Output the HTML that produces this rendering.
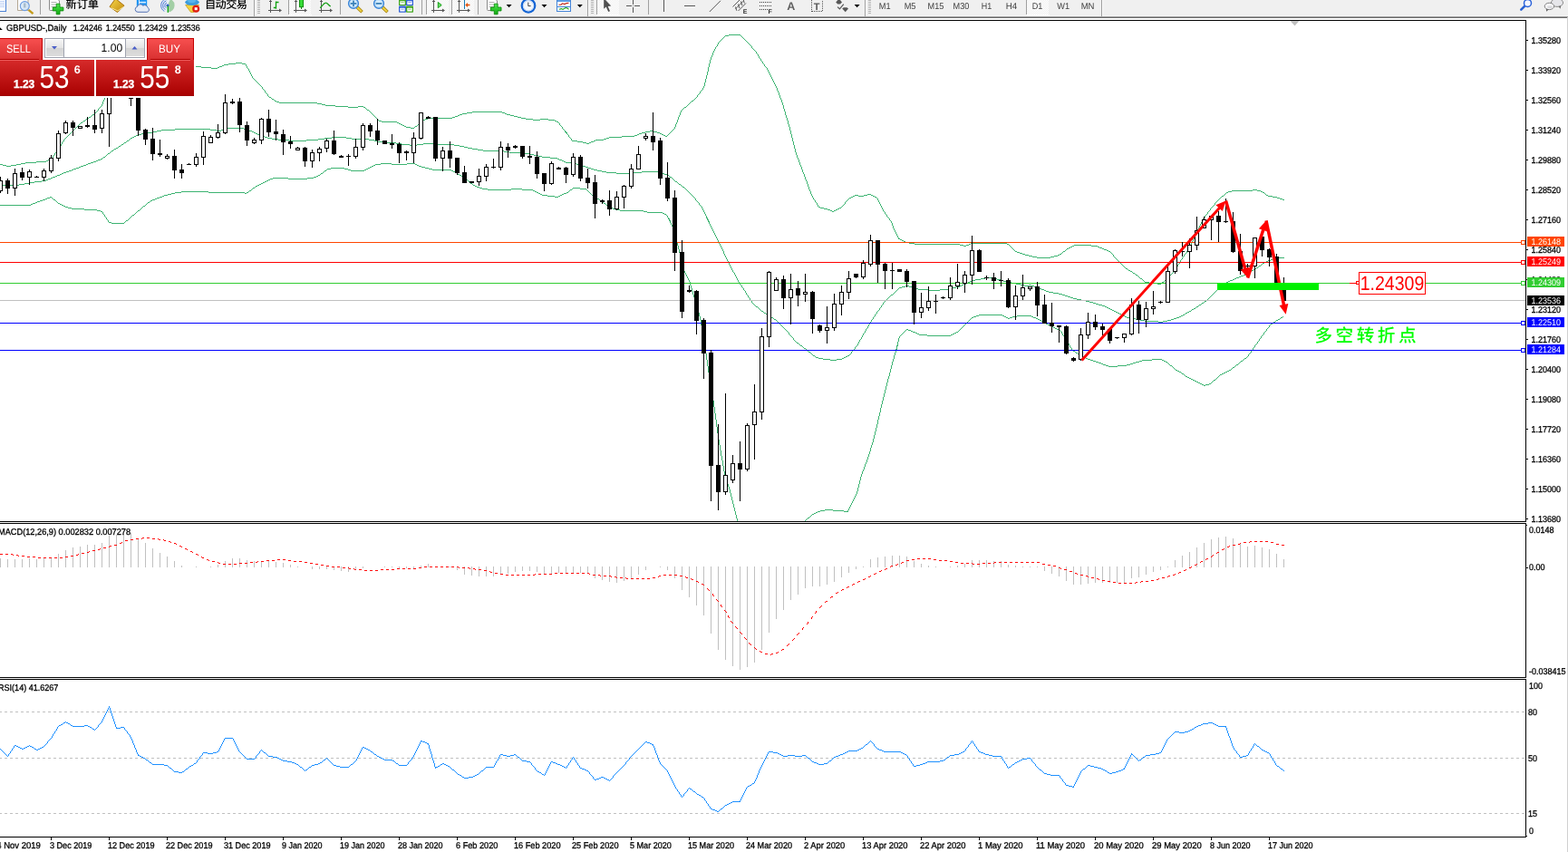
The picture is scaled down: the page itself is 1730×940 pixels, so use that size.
<!DOCTYPE html>
<html lang="zh"><head><meta charset="utf-8"><title>GBPUSD Daily</title>
<style>html,body{margin:0;padding:0;background:#fff;}body{width:1730px;height:940px;overflow:hidden;position:relative;}svg{display:block;position:absolute;left:0;top:0;font-family:"Liberation Sans", "Noto Sans CJK SC", sans-serif;}.c{shape-rendering:crispEdges}</style></head><body>
<svg width="1730" height="940" viewBox="0 0 1730 940" text-rendering="geometricPrecision">
<defs><clipPath id="cm"><rect x="0" y="23" width="1683" height="552"/></clipPath><clipPath id="cd"><rect x="0" y="578" width="1683" height="169"/></clipPath><clipPath id="cr"><rect x="0" y="750" width="1683" height="173"/></clipPath><linearGradient id="gs" x1="0" y1="0" x2="0" y2="1"><stop offset="0" stop-color="#f85050"/><stop offset="1" stop-color="#d83030"/></linearGradient><linearGradient id="gb" x1="0" y1="0" x2="0" y2="1"><stop offset="0" stop-color="#d62a2a"/><stop offset="1" stop-color="#a80000"/></linearGradient><linearGradient id="gg" x1="0" y1="0" x2="0" y2="1"><stop offset="0" stop-color="#f4f4f4"/><stop offset="0.5" stop-color="#e4e4e4"/><stop offset="0.5" stop-color="#d4d4d4"/><stop offset="1" stop-color="#dcdcdc"/></linearGradient></defs>
<rect x="0" y="0" width="1730" height="940" fill="#fff" />
<g class="c" clip-path="url(#cm)">
<path d="M804 38.5h13M800 39.5h4M817 39.5h1M799 40.5h1M818 40.5h1M798 41.5h1M819 41.5h1M797 42.5h1M820 42.5h1M796 43.5h1M821 43.5h1M795 44.5h1M822 44.5h1M794 45.5h1M823 45.5h1M793 46.5h1M824 46.5h1M792 47.5h1M825 47.5h1M792 48.5h1M826 48.5h1M791 49.5h1M827 49.5h1M791 50.5h1M828 50.5h1M790 51.5h1M829 51.5h1M789 52.5h1M829 52.5h1M789 53.5h1M830 53.5h1M788 54.5h1M831 54.5h1M788 55.5h1M832 55.5h1M787 56.5h1M833 56.5h1M787 57.5h1M834 57.5h1M786 58.5h1M834 58.5h1M786 59.5h1M835 59.5h1M786 60.5h1M836 60.5h1M785 61.5h1M836 61.5h1M785 62.5h1M837 62.5h1M784 63.5h1M837 63.5h1M784 64.5h1M838 64.5h1M784 65.5h1M839 65.5h1M783 66.5h1M839 66.5h1M783 67.5h1M840 67.5h1M783 68.5h1M841 68.5h1M260 69.5h7M783 69.5h1M841 69.5h1M252 70.5h8M267 70.5h4M782 70.5h1M842 70.5h1M247 71.5h5M271 71.5h1M782 71.5h1M843 71.5h1M245 72.5h2M271 72.5h1M782 72.5h1M843 72.5h1M209 73.5h13M242 73.5h3M272 73.5h1M782 73.5h1M844 73.5h1M193 74.5h16M222 74.5h11M240 74.5h2M272 74.5h1M781 74.5h1M845 74.5h1M178 75.5h15M233 75.5h7M273 75.5h1M781 75.5h1M846 75.5h1M169 76.5h9M274 76.5h1M781 76.5h1M846 76.5h1M165 77.5h4M274 77.5h1M781 77.5h1M847 77.5h1M161 78.5h4M275 78.5h1M781 78.5h1M847 78.5h1M157 79.5h4M275 79.5h1M780 79.5h1M848 79.5h1M154 80.5h3M276 80.5h1M780 80.5h1M848 80.5h1M150 81.5h4M276 81.5h1M780 81.5h1M849 81.5h1M146 82.5h4M277 82.5h1M780 82.5h1M849 82.5h1M142 83.5h4M277 83.5h1M779 83.5h1M850 83.5h1M140 84.5h2M278 84.5h1M779 84.5h1M850 84.5h1M138 85.5h2M278 85.5h1M779 85.5h1M851 85.5h1M137 86.5h1M279 86.5h1M779 86.5h1M851 86.5h1M136 87.5h1M280 87.5h1M778 87.5h1M852 87.5h1M134 88.5h2M281 88.5h1M778 88.5h1M852 88.5h1M133 89.5h1M282 89.5h1M778 89.5h1M853 89.5h1M132 90.5h1M283 90.5h1M778 90.5h1M853 90.5h1M130 91.5h2M284 91.5h1M777 91.5h1M854 91.5h1M129 92.5h1M285 92.5h1M777 92.5h1M854 92.5h1M128 93.5h1M286 93.5h1M777 93.5h1M855 93.5h1M126 94.5h2M287 94.5h1M777 94.5h1M855 94.5h1M125 95.5h1M288 95.5h1M776 95.5h1M856 95.5h1M124 96.5h1M289 96.5h1M776 96.5h1M856 96.5h1M123 97.5h1M289 97.5h1M775 97.5h1M857 97.5h1M123 98.5h1M290 98.5h1M775 98.5h1M857 98.5h1M122 99.5h1M291 99.5h1M774 99.5h1M857 99.5h1M121 100.5h1M292 100.5h1M773 100.5h1M858 100.5h1M120 101.5h1M292 101.5h1M772 101.5h1M858 101.5h1M120 102.5h1M293 102.5h1M772 102.5h1M859 102.5h1M119 103.5h1M294 103.5h1M771 103.5h1M859 103.5h1M118 104.5h1M295 104.5h1M770 104.5h1M859 104.5h1M117 105.5h1M295 105.5h1M769 105.5h1M860 105.5h1M117 106.5h1M296 106.5h1M769 106.5h1M860 106.5h1M116 107.5h1M297 107.5h2M768 107.5h1M860 107.5h1M115 108.5h1M299 108.5h1M767 108.5h1M861 108.5h1M115 109.5h1M300 109.5h2M766 109.5h1M861 109.5h1M114 110.5h1M302 110.5h1M765 110.5h1M862 110.5h1M114 111.5h1M303 111.5h2M763 111.5h2M862 111.5h1M113 112.5h1M305 112.5h3M762 112.5h1M862 112.5h1M113 113.5h1M308 113.5h42M761 113.5h1M863 113.5h1M113 114.5h1M350 114.5h5M760 114.5h1M863 114.5h1M112 115.5h1M355 115.5h4M759 115.5h1M863 115.5h1M112 116.5h1M359 116.5h11M758 116.5h1M864 116.5h1M111 117.5h1M370 117.5h14M395 117.5h6M757 117.5h1M864 117.5h1M110 118.5h1M384 118.5h11M401 118.5h2M755 118.5h2M864 118.5h1M109 119.5h1M403 119.5h1M754 119.5h1M864 119.5h1M108 120.5h1M404 120.5h1M753 120.5h1M865 120.5h1M108 121.5h1M405 121.5h2M752 121.5h1M865 121.5h1M107 122.5h1M407 122.5h1M751 122.5h1M865 122.5h1M106 123.5h1M408 123.5h1M521 123.5h33M751 123.5h1M866 123.5h1M105 124.5h1M409 124.5h1M515 124.5h6M554 124.5h3M750 124.5h1M866 124.5h1M104 125.5h1M410 125.5h1M510 125.5h5M557 125.5h2M750 125.5h1M866 125.5h1M102 126.5h2M411 126.5h1M507 126.5h3M559 126.5h4M750 126.5h1M866 126.5h1M101 127.5h1M412 127.5h1M505 127.5h2M563 127.5h4M749 127.5h1M867 127.5h1M100 128.5h1M413 128.5h1M502 128.5h3M567 128.5h4M749 128.5h1M867 128.5h1M98 129.5h2M414 129.5h1M499 129.5h3M571 129.5h4M748 129.5h1M867 129.5h1M97 130.5h1M415 130.5h1M472 130.5h27M575 130.5h5M748 130.5h1M868 130.5h1M95 131.5h2M416 131.5h1M469 131.5h3M580 131.5h8M596 131.5h9M748 131.5h1M868 131.5h1M94 132.5h1M416 132.5h2M467 132.5h2M588 132.5h8M605 132.5h7M747 132.5h1M868 132.5h1M92 133.5h2M418 133.5h3M466 133.5h1M612 133.5h2M747 133.5h1M869 133.5h1M91 134.5h1M421 134.5h17M465 134.5h1M614 134.5h2M747 134.5h1M869 134.5h1M89 135.5h2M438 135.5h2M463 135.5h2M616 135.5h1M746 135.5h1M869 135.5h1M88 136.5h1M440 136.5h2M462 136.5h1M617 136.5h1M746 136.5h1M869 136.5h1M87 137.5h1M442 137.5h2M461 137.5h1M617 137.5h1M745 137.5h1M870 137.5h1M86 138.5h1M444 138.5h2M460 138.5h1M618 138.5h1M745 138.5h1M870 138.5h1M85 139.5h1M446 139.5h2M458 139.5h2M619 139.5h1M745 139.5h1M870 139.5h1M84 140.5h1M448 140.5h5M457 140.5h1M620 140.5h1M744 140.5h1M871 140.5h1M83 141.5h1M453 141.5h4M620 141.5h1M744 141.5h1M871 141.5h1M82 142.5h1M621 142.5h1M743 142.5h1M871 142.5h1M81 143.5h1M622 143.5h1M742 143.5h1M871 143.5h1M80 144.5h1M623 144.5h1M717 144.5h4M741 144.5h1M872 144.5h1M79 145.5h1M623 145.5h2M712 145.5h5M721 145.5h4M740 145.5h1M872 145.5h1M78 146.5h1M624 146.5h2M708 146.5h4M725 146.5h3M739 146.5h1M872 146.5h1M77 147.5h1M625 147.5h1M705 147.5h3M728 147.5h2M738 147.5h1M872 147.5h1M76 148.5h1M626 148.5h1M703 148.5h2M730 148.5h2M737 148.5h1M873 148.5h1M75 149.5h1M627 149.5h1M700 149.5h3M732 149.5h2M736 149.5h1M873 149.5h1M74 150.5h1M627 150.5h1M686 150.5h14M734 150.5h2M873 150.5h1M73 151.5h1M628 151.5h1M672 151.5h14M873 151.5h1M72 152.5h1M629 152.5h1M669 152.5h3M874 152.5h1M71 153.5h1M630 153.5h1M666 153.5h3M874 153.5h1M70 154.5h1M630 154.5h1M657 154.5h9M874 154.5h1M70 155.5h1M631 155.5h6M655 155.5h2M874 155.5h1M69 156.5h1M637 156.5h6M652 156.5h3M875 156.5h1M68 157.5h1M643 157.5h4M650 157.5h2M875 157.5h1M68 158.5h1M647 158.5h3M875 158.5h1M67 159.5h1M875 159.5h1M67 160.5h1M876 160.5h1M66 161.5h1M876 161.5h1M65 162.5h1M876 162.5h1M65 163.5h1M876 163.5h1M64 164.5h1M877 164.5h1M63 165.5h1M877 165.5h1M63 166.5h1M877 166.5h1M62 167.5h1M877 167.5h1M61 168.5h1M878 168.5h1M60 169.5h1M878 169.5h1M60 170.5h1M878 170.5h1M59 171.5h1M879 171.5h1M58 172.5h1M879 172.5h1M58 173.5h1M879 173.5h1M57 174.5h1M880 174.5h1M55 175.5h2M880 175.5h1M53 176.5h2M881 176.5h1M51 177.5h2M881 177.5h1M40 178.5h11M881 178.5h1M28 179.5h12M882 179.5h1M23 180.5h5M882 180.5h1M0 181.5h3M18 181.5h5M882 181.5h1M3 182.5h4M12 182.5h6M883 182.5h1M7 183.5h5M883 183.5h1M884 184.5h1M884 185.5h1M884 186.5h1M885 187.5h1M885 188.5h1M885 189.5h1M886 190.5h1M886 191.5h1M887 192.5h1M887 193.5h1M887 194.5h1M888 195.5h1M888 196.5h1M888 197.5h1M889 198.5h1M889 199.5h1M890 200.5h1M890 201.5h1M890 202.5h1M891 203.5h1M891 204.5h1M891 205.5h1M892 206.5h1M892 207.5h1M892 208.5h1M893 209.5h1M1382 209.5h5M893 210.5h1M1359 210.5h23M1387 210.5h4M894 211.5h1M1355 211.5h4M1391 211.5h2M894 212.5h1M1353 212.5h2M1393 212.5h2M894 213.5h1M1352 213.5h1M1395 213.5h1M895 214.5h1M957 214.5h4M1351 214.5h1M1396 214.5h1M895 215.5h1M943 215.5h4M953 215.5h4M961 215.5h2M1350 215.5h1M1397 215.5h2M896 216.5h1M941 216.5h2M947 216.5h6M963 216.5h2M1348 216.5h2M1399 216.5h5M896 217.5h1M939 217.5h2M965 217.5h2M1347 217.5h1M1404 217.5h5M897 218.5h1M937 218.5h2M967 218.5h1M1346 218.5h1M1409 218.5h3M897 219.5h1M936 219.5h1M968 219.5h1M1345 219.5h1M1412 219.5h3M898 220.5h1M935 220.5h1M968 220.5h1M1344 220.5h1M1415 220.5h2M899 221.5h1M934 221.5h1M969 221.5h1M1343 221.5h1M899 222.5h1M933 222.5h1M969 222.5h1M1342 222.5h1M900 223.5h1M932 223.5h1M970 223.5h1M1341 223.5h1M901 224.5h1M932 224.5h1M970 224.5h1M1340 224.5h1M901 225.5h1M931 225.5h1M971 225.5h1M1340 225.5h1M902 226.5h1M930 226.5h1M971 226.5h1M1339 226.5h1M902 227.5h1M929 227.5h1M972 227.5h1M1338 227.5h1M903 228.5h2M928 228.5h1M972 228.5h1M1337 228.5h1M905 229.5h4M926 229.5h2M973 229.5h1M1336 229.5h1M909 230.5h4M924 230.5h2M973 230.5h1M1335 230.5h1M913 231.5h3M922 231.5h2M974 231.5h1M1335 231.5h1M916 232.5h2M920 232.5h2M974 232.5h1M1334 232.5h1M918 233.5h2M975 233.5h1M1333 233.5h1M976 234.5h1M1332 234.5h1M976 235.5h1M1332 235.5h1M977 236.5h1M1331 236.5h1M978 237.5h1M1330 237.5h1M978 238.5h1M1329 238.5h1M979 239.5h1M1329 239.5h1M980 240.5h1M1328 240.5h1M981 241.5h1M1327 241.5h1M981 242.5h1M1327 242.5h1M982 243.5h1M1326 243.5h1M983 244.5h1M1326 244.5h1M983 245.5h1M1325 245.5h1M984 246.5h1M1325 246.5h1M984 247.5h1M1324 247.5h1M984 248.5h1M1324 248.5h1M985 249.5h1M1323 249.5h1M985 250.5h1M1323 250.5h1M985 251.5h1M1322 251.5h1M986 252.5h1M1322 252.5h1M986 253.5h1M1321 253.5h1M987 254.5h1M1321 254.5h1M987 255.5h1M1320 255.5h1M988 256.5h1M1320 256.5h1M988 257.5h1M1320 257.5h1M989 258.5h1M1319 258.5h1M989 259.5h1M1319 259.5h1M990 260.5h1M1318 260.5h1M990 261.5h1M1318 261.5h1M991 262.5h1M1317 262.5h1M991 263.5h2M1317 263.5h1M993 264.5h2M1316 264.5h1M995 265.5h2M1316 265.5h1M997 266.5h2M1315 266.5h1M999 267.5h4M1315 267.5h1M1003 268.5h6M1071 268.5h40M1314 268.5h1M1009 269.5h50M1069 269.5h2M1111 269.5h2M1314 269.5h1M1059 270.5h4M1066 270.5h3M1113 270.5h1M1185 270.5h19M1313 270.5h1M1063 271.5h3M1114 271.5h1M1183 271.5h2M1204 271.5h7M1313 271.5h1M1115 272.5h1M1181 272.5h2M1211 272.5h2M1312 272.5h1M1116 273.5h1M1179 273.5h2M1213 273.5h3M1312 273.5h1M1117 274.5h1M1177 274.5h2M1216 274.5h2M1311 274.5h1M1118 275.5h1M1176 275.5h1M1218 275.5h3M1311 275.5h1M1119 276.5h1M1175 276.5h1M1221 276.5h2M1310 276.5h1M1120 277.5h2M1173 277.5h2M1223 277.5h2M1309 277.5h1M1122 278.5h3M1172 278.5h1M1225 278.5h1M1309 278.5h1M1125 279.5h3M1171 279.5h1M1226 279.5h1M1308 279.5h1M1128 280.5h3M1169 280.5h2M1227 280.5h1M1307 280.5h1M1131 281.5h4M1167 281.5h2M1228 281.5h1M1306 281.5h1M1135 282.5h4M1163 282.5h4M1228 282.5h1M1306 282.5h1M1139 283.5h5M1159 283.5h4M1229 283.5h1M1305 283.5h1M1144 284.5h15M1230 284.5h1M1304 284.5h1M1231 285.5h1M1304 285.5h1M1232 286.5h1M1303 286.5h1M1233 287.5h1M1302 287.5h1M1234 288.5h1M1302 288.5h1M1235 289.5h1M1301 289.5h1M1236 290.5h1M1301 290.5h1M1237 291.5h1M1300 291.5h1M1238 292.5h1M1299 292.5h1M1239 293.5h1M1299 293.5h1M1240 294.5h1M1298 294.5h1M1241 295.5h1M1297 295.5h1M1242 296.5h2M1297 296.5h1M1244 297.5h1M1296 297.5h1M1245 298.5h2M1296 298.5h1M1247 299.5h2M1295 299.5h1M1249 300.5h1M1294 300.5h1M1250 301.5h2M1293 301.5h1M1252 302.5h1M1292 302.5h1M1253 303.5h2M1291 303.5h1M1255 304.5h1M1290 304.5h1M1256 305.5h1M1289 305.5h1M1257 306.5h1M1288 306.5h1M1258 307.5h2M1287 307.5h1M1260 308.5h1M1286 308.5h1M1261 309.5h1M1285 309.5h1M1262 310.5h1M1284 310.5h1M1263 311.5h5M1282 311.5h2M1268 312.5h9M1281 312.5h1M1277 313.5h4" fill="none" stroke="#3cb371" stroke-width="1"/>
<path d="M251 141.5h18M193 142.5h39M248 142.5h3M269 142.5h3M178 143.5h15M232 143.5h7M244 143.5h4M272 143.5h3M173 144.5h5M239 144.5h5M275 144.5h3M168 145.5h5M278 145.5h2M162 146.5h6M280 146.5h2M156 147.5h6M282 147.5h2M152 148.5h4M284 148.5h2M150 149.5h2M286 149.5h3M148 150.5h2M289 150.5h3M146 151.5h2M292 151.5h3M366 151.5h16M144 152.5h2M295 152.5h5M358 152.5h8M382 152.5h6M143 153.5h1M300 153.5h7M351 153.5h7M388 153.5h19M142 154.5h1M307 154.5h12M338 154.5h13M407 154.5h6M140 155.5h2M319 155.5h19M413 155.5h3M139 156.5h1M416 156.5h9M137 157.5h2M425 157.5h12M136 158.5h1M437 158.5h6M467 158.5h14M134 159.5h2M443 159.5h9M460 159.5h7M481 159.5h20M133 160.5h1M452 160.5h8M501 160.5h6M131 161.5h2M507 161.5h5M130 162.5h1M512 162.5h4M128 163.5h2M516 163.5h5M126 164.5h2M521 164.5h6M125 165.5h1M527 165.5h6M123 166.5h2M533 166.5h23M122 167.5h1M556 167.5h6M121 168.5h1M562 168.5h17M119 169.5h2M579 169.5h5M118 170.5h1M584 170.5h5M117 171.5h1M589 171.5h5M116 172.5h1M594 172.5h4M114 173.5h2M598 173.5h9M113 174.5h1M607 174.5h8M111 175.5h2M615 175.5h2M108 176.5h3M617 176.5h3M106 177.5h2M620 177.5h2M103 178.5h3M622 178.5h2M100 179.5h3M624 179.5h6M97 180.5h3M630 180.5h6M95 181.5h2M636 181.5h4M92 182.5h3M640 182.5h3M89 183.5h3M643 183.5h3M87 184.5h2M646 184.5h3M84 185.5h3M649 185.5h3M81 186.5h3M652 186.5h3M79 187.5h2M655 187.5h4M76 188.5h3M659 188.5h5M73 189.5h3M664 189.5h5M708 189.5h18M70 190.5h3M669 190.5h11M695 190.5h13M726 190.5h2M68 191.5h2M680 191.5h15M728 191.5h5M66 192.5h2M733 192.5h4M63 193.5h3M737 193.5h1M61 194.5h2M738 194.5h1M58 195.5h3M739 195.5h2M56 196.5h2M741 196.5h1M53 197.5h3M742 197.5h1M51 198.5h2M743 198.5h1M46 199.5h5M744 199.5h1M38 200.5h8M745 200.5h2M32 201.5h6M747 201.5h1M27 202.5h5M748 202.5h1M21 203.5h6M749 203.5h2M0 204.5h21M751 204.5h1M752 205.5h1M753 206.5h2M755 207.5h1M756 208.5h1M757 209.5h1M758 210.5h1M759 211.5h1M760 212.5h1M761 213.5h1M762 214.5h1M763 215.5h1M764 216.5h1M765 217.5h1M766 218.5h1M767 219.5h1M767 220.5h1M768 221.5h1M769 222.5h1M770 223.5h1M771 224.5h1M771 225.5h1M772 226.5h1M773 227.5h1M774 228.5h1M774 229.5h1M775 230.5h1M775 231.5h1M776 232.5h1M776 233.5h1M777 234.5h1M777 235.5h1M778 236.5h1M778 237.5h1M779 238.5h1M779 239.5h1M779 240.5h2M780 241.5h1M780 242.5h2M781 243.5h1M781 244.5h2M782 245.5h1M782 246.5h1M783 247.5h1M783 248.5h1M784 249.5h1M784 250.5h1M785 251.5h1M785 252.5h1M786 253.5h1M786 254.5h1M787 255.5h1M787 256.5h1M788 257.5h1M788 258.5h1M789 259.5h1M789 260.5h1M790 261.5h1M790 262.5h1M791 263.5h1M791 264.5h1M792 265.5h1M792 266.5h1M793 267.5h1M793 268.5h1M794 269.5h1M794 270.5h1M795 271.5h1M795 272.5h1M796 273.5h1M796 274.5h1M797 275.5h1M797 276.5h1M798 277.5h1M798 278.5h1M798 279.5h1M799 280.5h1M799 281.5h1M800 282.5h1M800 283.5h1M801 284.5h1M1411 284.5h6M801 285.5h1M1404 285.5h7M802 286.5h1M1402 286.5h2M802 287.5h1M1399 287.5h3M803 288.5h1M1397 288.5h2M803 289.5h1M1395 289.5h2M804 290.5h1M1393 290.5h2M804 291.5h1M1392 291.5h1M805 292.5h1M1391 292.5h1M805 293.5h1M1389 293.5h2M806 294.5h1M1388 294.5h1M806 295.5h1M1386 295.5h2M807 296.5h1M1385 296.5h1M807 297.5h1M1383 297.5h2M808 298.5h1M1381 298.5h2M808 299.5h1M1380 299.5h1M809 300.5h1M1378 300.5h2M810 301.5h1M1376 301.5h2M810 302.5h1M1374 302.5h2M811 303.5h1M1372 303.5h2M811 304.5h1M1369 304.5h3M812 305.5h1M1367 305.5h2M812 306.5h1M1087 306.5h7M1364 306.5h3M813 307.5h1M1082 307.5h5M1094 307.5h6M1362 307.5h2M813 308.5h1M1076 308.5h6M1100 308.5h4M1360 308.5h2M814 309.5h1M1072 309.5h4M1104 309.5h3M1357 309.5h3M814 310.5h1M1070 310.5h2M1107 310.5h4M1355 310.5h2M815 311.5h1M1068 311.5h2M1111 311.5h5M1353 311.5h2M816 312.5h1M1066 312.5h2M1116 312.5h5M1352 312.5h1M816 313.5h1M1063 313.5h3M1121 313.5h5M1350 313.5h2M817 314.5h1M1061 314.5h2M1126 314.5h4M1135 314.5h3M1349 314.5h1M818 315.5h1M999 315.5h4M1059 315.5h2M1130 315.5h5M1138 315.5h3M1348 315.5h1M818 316.5h1M995 316.5h4M1003 316.5h3M1055 316.5h4M1141 316.5h2M1347 316.5h1M819 317.5h1M992 317.5h3M1006 317.5h2M1051 317.5h4M1143 317.5h3M1346 317.5h1M820 318.5h1M991 318.5h1M1008 318.5h5M1046 318.5h5M1146 318.5h3M1344 318.5h2M820 319.5h1M990 319.5h1M1013 319.5h11M1037 319.5h9M1149 319.5h3M1343 319.5h1M821 320.5h1M989 320.5h1M1024 320.5h13M1152 320.5h2M1342 320.5h1M822 321.5h1M988 321.5h1M1154 321.5h3M1341 321.5h1M822 322.5h1M987 322.5h1M1157 322.5h5M1340 322.5h1M823 323.5h1M986 323.5h1M1162 323.5h6M1339 323.5h1M823 324.5h1M985 324.5h1M1168 324.5h4M1338 324.5h1M824 325.5h1M983 325.5h2M1172 325.5h3M1337 325.5h1M825 326.5h1M982 326.5h1M1175 326.5h3M1336 326.5h1M825 327.5h1M981 327.5h1M1178 327.5h3M1335 327.5h1M826 328.5h1M980 328.5h1M1181 328.5h3M1334 328.5h1M827 329.5h1M979 329.5h1M1184 329.5h4M1333 329.5h1M827 330.5h1M978 330.5h1M1188 330.5h5M1332 330.5h1M828 331.5h1M977 331.5h1M1193 331.5h5M1331 331.5h1M829 332.5h1M976 332.5h1M1198 332.5h4M1329 332.5h2M829 333.5h1M975 333.5h1M1202 333.5h4M1328 333.5h1M830 334.5h1M974 334.5h1M1206 334.5h3M1326 334.5h2M831 335.5h1M974 335.5h1M1209 335.5h3M1325 335.5h1M832 336.5h1M973 336.5h1M1212 336.5h4M1323 336.5h2M833 337.5h1M972 337.5h1M1216 337.5h3M1322 337.5h1M834 338.5h2M972 338.5h1M1219 338.5h2M1320 338.5h2M836 339.5h1M971 339.5h1M1221 339.5h2M1319 339.5h1M837 340.5h1M970 340.5h1M1223 340.5h2M1317 340.5h2M838 341.5h1M970 341.5h1M1225 341.5h2M1315 341.5h2M839 342.5h1M969 342.5h1M1227 342.5h2M1314 342.5h1M840 343.5h2M968 343.5h1M1229 343.5h2M1312 343.5h2M842 344.5h1M967 344.5h1M1231 344.5h2M1310 344.5h2M843 345.5h2M967 345.5h1M1233 345.5h2M1308 345.5h2M845 346.5h1M966 346.5h1M1235 346.5h2M1307 346.5h1M846 347.5h2M965 347.5h1M1237 347.5h2M1305 347.5h2M848 348.5h1M965 348.5h1M1239 348.5h2M1303 348.5h2M849 349.5h2M964 349.5h1M1241 349.5h2M1301 349.5h2M851 350.5h2M963 350.5h1M1243 350.5h4M1298 350.5h3M853 351.5h1M963 351.5h1M1247 351.5h6M1295 351.5h3M854 352.5h2M962 352.5h1M1253 352.5h5M1292 352.5h3M856 353.5h1M961 353.5h1M1258 353.5h5M1288 353.5h4M857 354.5h1M961 354.5h1M1263 354.5h15M1283 354.5h5M858 355.5h1M960 355.5h1M1278 355.5h5M859 356.5h1M959 356.5h1M860 357.5h1M959 357.5h1M861 358.5h1M958 358.5h1M862 359.5h1M958 359.5h1M863 360.5h1M957 360.5h1M864 361.5h1M957 361.5h1M865 362.5h1M956 362.5h1M866 363.5h1M955 363.5h1M867 364.5h1M955 364.5h1M868 365.5h1M954 365.5h1M869 366.5h1M954 366.5h1M870 367.5h1M953 367.5h1M870 368.5h1M952 368.5h1M871 369.5h1M952 369.5h1M872 370.5h1M951 370.5h1M873 371.5h1M951 371.5h1M874 372.5h1M950 372.5h1M875 373.5h1M950 373.5h1M875 374.5h1M949 374.5h1M876 375.5h1M948 375.5h1M877 376.5h1M948 376.5h1M878 377.5h1M947 377.5h1M879 378.5h2M947 378.5h1M881 379.5h1M946 379.5h1M882 380.5h1M946 380.5h1M883 381.5h2M945 381.5h1M885 382.5h1M944 382.5h1M886 383.5h1M943 383.5h1M887 384.5h2M943 384.5h1M889 385.5h1M942 385.5h1M890 386.5h1M941 386.5h1M891 387.5h1M940 387.5h1M892 388.5h2M939 388.5h1M894 389.5h1M939 389.5h1M895 390.5h1M938 390.5h1M896 391.5h1M937 391.5h1M897 392.5h2M935 392.5h2M899 393.5h1M933 393.5h2M900 394.5h3M931 394.5h2M903 395.5h5M929 395.5h2M908 396.5h8M923 396.5h6M916 397.5h7" fill="none" stroke="#3cb371" stroke-width="1"/>
<path d="M420 180.5h12M449 180.5h9M414 181.5h6M432 181.5h17M458 181.5h2M412 182.5h2M460 182.5h2M410 183.5h2M462 183.5h3M408 184.5h2M465 184.5h4M365 185.5h15M406 185.5h2M469 185.5h4M361 186.5h4M380 186.5h4M404 186.5h2M473 186.5h4M360 187.5h1M384 187.5h3M402 187.5h2M477 187.5h21M358 188.5h2M387 188.5h15M498 188.5h2M357 189.5h1M500 189.5h2M356 190.5h1M502 190.5h2M354 191.5h2M504 191.5h1M353 192.5h1M505 192.5h2M351 193.5h2M507 193.5h2M349 194.5h2M509 194.5h2M346 195.5h3M511 195.5h1M301 196.5h17M339 196.5h7M512 196.5h1M298 197.5h3M318 197.5h21M513 197.5h1M296 198.5h2M514 198.5h2M294 199.5h2M516 199.5h1M292 200.5h2M517 200.5h1M290 201.5h2M518 201.5h1M288 202.5h2M519 202.5h2M286 203.5h2M521 203.5h1M284 204.5h2M522 204.5h2M282 205.5h2M524 205.5h2M281 206.5h1M526 206.5h3M279 207.5h2M529 207.5h3M632 207.5h8M278 208.5h1M532 208.5h6M564 208.5h12M631 208.5h1M640 208.5h7M277 209.5h1M538 209.5h26M576 209.5h12M629 209.5h2M647 209.5h1M275 210.5h2M588 210.5h2M628 210.5h1M648 210.5h1M200 211.5h30M274 211.5h1M590 211.5h2M627 211.5h1M649 211.5h1M193 212.5h7M230 212.5h40M272 212.5h2M592 212.5h2M625 212.5h2M650 212.5h1M189 213.5h4M270 213.5h2M594 213.5h2M622 213.5h3M651 213.5h1M185 214.5h4M596 214.5h2M620 214.5h2M652 214.5h1M181 215.5h4M598 215.5h6M618 215.5h2M653 215.5h2M179 216.5h2M604 216.5h8M616 216.5h2M655 216.5h1M55 217.5h2M176 217.5h3M612 217.5h4M656 217.5h2M52 218.5h3M57 218.5h1M173 218.5h3M658 218.5h1M50 219.5h2M58 219.5h1M171 219.5h2M659 219.5h2M47 220.5h3M59 220.5h2M168 220.5h3M661 220.5h1M44 221.5h3M61 221.5h1M166 221.5h2M662 221.5h2M41 222.5h3M62 222.5h1M165 222.5h1M664 222.5h1M39 223.5h2M63 223.5h1M163 223.5h2M665 223.5h1M36 224.5h3M64 224.5h2M162 224.5h1M666 224.5h2M34 225.5h2M66 225.5h2M161 225.5h1M668 225.5h1M0 226.5h34M68 226.5h2M160 226.5h1M669 226.5h1M70 227.5h2M158 227.5h2M670 227.5h2M72 228.5h3M157 228.5h1M672 228.5h2M75 229.5h4M156 229.5h1M674 229.5h2M79 230.5h14M155 230.5h1M676 230.5h3M93 231.5h14M154 231.5h1M679 231.5h5M107 232.5h4M152 232.5h2M684 232.5h26M111 233.5h2M151 233.5h1M710 233.5h4M113 234.5h1M150 234.5h1M714 234.5h17M113 235.5h1M149 235.5h1M731 235.5h2M114 236.5h1M148 236.5h1M733 236.5h2M115 237.5h1M146 237.5h2M735 237.5h1M115 238.5h1M145 238.5h1M736 238.5h1M116 239.5h1M144 239.5h1M736 239.5h1M117 240.5h1M143 240.5h1M737 240.5h1M117 241.5h1M142 241.5h1M737 241.5h2M118 242.5h1M141 242.5h1M738 242.5h1M119 243.5h1M139 243.5h2M738 243.5h2M119 244.5h1M138 244.5h1M739 244.5h1M120 245.5h3M137 245.5h1M739 245.5h1M123 246.5h14M740 246.5h1M740 247.5h1M741 248.5h1M741 249.5h1M742 250.5h1M742 251.5h1M743 252.5h1M743 253.5h1M743 254.5h1M743 255.5h1M744 256.5h1M744 257.5h1M744 258.5h1M744 259.5h1M745 260.5h1M745 261.5h1M745 262.5h1M746 263.5h1M746 264.5h1M746 265.5h1M746 266.5h1M747 267.5h1M747 268.5h1M747 269.5h1M747 270.5h1M748 271.5h1M748 272.5h1M748 273.5h1M748 274.5h1M749 275.5h1M749 276.5h1M749 277.5h1M749 278.5h1M750 279.5h1M750 280.5h1M750 281.5h1M750 282.5h1M751 283.5h1M751 284.5h1M751 285.5h1M751 286.5h1M752 287.5h1M752 288.5h1M752 289.5h1M752 290.5h1M753 291.5h1M753 292.5h1M753 293.5h1M753 294.5h1M754 295.5h1M754 296.5h1M754 297.5h1M754 298.5h1M755 299.5h1M755 300.5h1M756 301.5h1M756 302.5h1M757 303.5h1M757 304.5h1M758 305.5h1M758 306.5h1M759 307.5h1M759 308.5h1M760 309.5h1M760 310.5h1M761 311.5h1M761 312.5h1M761 313.5h1M761 314.5h1M762 315.5h1M762 316.5h1M762 317.5h1M763 318.5h1M763 319.5h1M763 320.5h1M764 321.5h1M764 322.5h1M764 323.5h1M764 324.5h1M765 325.5h1M765 326.5h1M765 327.5h1M766 328.5h1M766 329.5h1M766 330.5h1M766 331.5h1M767 332.5h1M767 333.5h1M767 334.5h1M768 335.5h1M768 336.5h1M768 337.5h1M768 338.5h1M769 339.5h1M769 340.5h1M769 341.5h1M770 342.5h1M770 343.5h1M770 344.5h1M771 345.5h1M771 346.5h1M771 347.5h1M771 348.5h1M772 349.5h1M772 350.5h1M772 351.5h1M772 352.5h1M773 353.5h1M773 354.5h1M773 355.5h1M773 356.5h1M773 357.5h1M773 358.5h1M774 359.5h1M774 360.5h1M774 361.5h1M774 362.5h1M774 363.5h1M775 364.5h1M775 365.5h1M775 366.5h1M775 367.5h1M775 368.5h1M776 369.5h1M776 370.5h1M776 371.5h1M776 372.5h1M776 373.5h1M776 374.5h1M777 375.5h1M777 376.5h1M777 377.5h1M777 378.5h1M777 379.5h1M777 380.5h1M777 381.5h1M778 382.5h1M778 383.5h1M778 384.5h1M778 385.5h1M778 386.5h1M778 387.5h1M778 388.5h1M778 389.5h1M779 390.5h1M779 391.5h1M779 392.5h1M779 393.5h1M779 394.5h1M779 395.5h1M779 396.5h1M780 397.5h1M780 398.5h1M780 399.5h1M780 400.5h1M780 401.5h1M780 402.5h1M780 403.5h1M781 404.5h1M781 405.5h1M781 406.5h1M781 407.5h1M781 408.5h1M781 409.5h1M781 410.5h1M782 411.5h1M782 412.5h1M782 413.5h1M782 414.5h1M782 415.5h1M782 416.5h1M783 417.5h1M783 418.5h1M783 419.5h1M783 420.5h1M783 421.5h1M783 422.5h1M784 423.5h1M784 424.5h1M784 425.5h1M784 426.5h1M784 427.5h1M784 428.5h1M784 429.5h1M785 430.5h1M785 431.5h1M785 432.5h1M785 433.5h1M785 434.5h1M785 435.5h1M786 436.5h1M786 437.5h1M786 438.5h1M786 439.5h1M786 440.5h1M786 441.5h1M787 442.5h1M787 443.5h1M787 444.5h1M787 445.5h1M787 446.5h1M787 447.5h1M787 448.5h1M788 449.5h1M788 450.5h1M788 451.5h1M788 452.5h1M788 453.5h1M788 454.5h1M788 455.5h1M789 456.5h1M789 457.5h1M789 458.5h1M789 459.5h1M789 460.5h1M789 461.5h1M789 462.5h1M790 463.5h1M790 464.5h1M790 465.5h1M790 466.5h1M790 467.5h1M790 468.5h1M790 469.5h1M790 470.5h1M791 471.5h1M791 472.5h1M791 473.5h1M791 474.5h1M791 475.5h1M791 476.5h1M791 477.5h1M792 478.5h1M792 479.5h1M792 480.5h1M792 481.5h1M792 482.5h1M792 483.5h1M792 484.5h1M793 485.5h1M793 486.5h1M793 487.5h1M793 488.5h1M793 489.5h1M793 490.5h1M794 491.5h1M794 492.5h1M794 493.5h1M794 494.5h1M794 495.5h1M794 496.5h1M795 497.5h1M795 498.5h1M795 499.5h1M795 500.5h1M795 501.5h1M795 502.5h1M796 503.5h1M796 504.5h1M796 505.5h1M796 506.5h1M796 507.5h1M797 508.5h1M797 509.5h1M797 510.5h1M797 511.5h1M797 512.5h1M797 513.5h1M798 514.5h1M798 515.5h1M798 516.5h1M798 517.5h1M798 518.5h1M798 519.5h1M799 520.5h1M799 521.5h1M799 522.5h1M799 523.5h1M800 524.5h1M800 525.5h1M800 526.5h1M801 527.5h1M801 528.5h1M801 529.5h1M802 530.5h1M802 531.5h1M802 532.5h1M802 533.5h1M803 534.5h1M803 535.5h1M803 536.5h1M804 537.5h1M804 538.5h1M804 539.5h1M805 540.5h1M805 541.5h1M805 542.5h1M805 543.5h1M806 544.5h1M806 545.5h1M806 546.5h1M806 547.5h1M807 548.5h1M807 549.5h1M807 550.5h1M807 551.5h1M808 552.5h1M808 553.5h1M808 554.5h1M808 555.5h1M809 556.5h1M809 557.5h1M809 558.5h1M809 559.5h1M810 560.5h1M810 561.5h1M810 562.5h1M810 563.5h1M811 564.5h1M811 565.5h1M811 566.5h1M811 567.5h1M812 568.5h1M812 569.5h1M812 570.5h1M812 571.5h1M813 572.5h1M813 573.5h1M813 574.5h1" fill="none" stroke="#3cb371" stroke-width="1"/>
<path d="M1080 347.5h26M1077 348.5h3M1106 348.5h2M1122 348.5h16M1074 349.5h3M1108 349.5h2M1117 349.5h5M1138 349.5h2M1415 349.5h1M1072 350.5h2M1110 350.5h2M1114 350.5h3M1140 350.5h3M1413 350.5h2M1071 351.5h1M1112 351.5h2M1143 351.5h2M1412 351.5h1M1070 352.5h1M1145 352.5h2M1410 352.5h2M1069 353.5h1M1147 353.5h2M1408 353.5h2M1068 354.5h1M1149 354.5h2M1407 354.5h1M1067 355.5h1M1151 355.5h1M1405 355.5h2M1066 356.5h1M1152 356.5h2M1404 356.5h1M1065 357.5h1M1154 357.5h2M1402 357.5h2M1064 358.5h1M1156 358.5h2M1401 358.5h1M1063 359.5h1M1158 359.5h2M1400 359.5h1M1062 360.5h1M1160 360.5h2M1400 360.5h1M1061 361.5h1M1162 361.5h2M1399 361.5h1M1060 362.5h1M1164 362.5h2M1398 362.5h1M1000 363.5h2M1059 363.5h1M1166 363.5h2M1397 363.5h1M999 364.5h1M1002 364.5h3M1058 364.5h1M1168 364.5h2M1397 364.5h1M998 365.5h1M1005 365.5h2M1057 365.5h1M1170 365.5h1M1396 365.5h1M997 366.5h1M1007 366.5h3M1055 366.5h2M1171 366.5h1M1395 366.5h1M996 367.5h1M1010 367.5h2M1053 367.5h2M1171 367.5h1M1394 367.5h1M995 368.5h1M1012 368.5h2M1051 368.5h2M1172 368.5h1M1394 368.5h1M994 369.5h1M1014 369.5h9M1049 369.5h2M1172 369.5h1M1393 369.5h1M993 370.5h1M1023 370.5h26M1173 370.5h1M1392 370.5h1M992 371.5h1M1174 371.5h1M1391 371.5h1M992 372.5h1M1174 372.5h1M1391 372.5h1M991 373.5h1M1175 373.5h1M1390 373.5h1M991 374.5h1M1176 374.5h1M1389 374.5h1M991 375.5h1M1176 375.5h1M1389 375.5h1M991 376.5h1M1177 376.5h1M1388 376.5h1M990 377.5h1M1177 377.5h1M1387 377.5h1M990 378.5h1M1178 378.5h1M1387 378.5h1M990 379.5h1M1179 379.5h1M1386 379.5h1M990 380.5h1M1179 380.5h1M1385 380.5h1M989 381.5h2M1180 381.5h1M1384 381.5h1M989 382.5h1M1180 382.5h1M1384 382.5h1M989 383.5h1M1181 383.5h1M1383 383.5h1M989 384.5h1M1182 384.5h1M1382 384.5h1M988 385.5h2M1182 385.5h1M1382 385.5h1M988 386.5h1M1183 386.5h1M1381 386.5h1M988 387.5h1M1184 387.5h2M1380 387.5h1M988 388.5h1M1186 388.5h1M1380 388.5h1M987 389.5h1M1187 389.5h2M1379 389.5h1M987 390.5h1M1189 390.5h1M1378 390.5h1M987 391.5h1M1190 391.5h1M1377 391.5h1M986 392.5h1M1191 392.5h2M1377 392.5h1M986 393.5h1M1193 393.5h2M1376 393.5h1M986 394.5h1M1195 394.5h3M1375 394.5h1M986 395.5h1M1198 395.5h2M1373 395.5h2M985 396.5h1M1200 396.5h3M1271 396.5h11M1372 396.5h1M985 397.5h1M1203 397.5h3M1260 397.5h11M1282 397.5h2M1371 397.5h1M985 398.5h1M1206 398.5h3M1257 398.5h3M1284 398.5h2M1369 398.5h2M984 399.5h1M1209 399.5h3M1253 399.5h4M1286 399.5h2M1368 399.5h1M984 400.5h1M1212 400.5h3M1250 400.5h3M1288 400.5h1M1367 400.5h1M984 401.5h1M1215 401.5h2M1247 401.5h3M1289 401.5h1M1366 401.5h1M984 402.5h1M1217 402.5h3M1243 402.5h4M1290 402.5h1M1364 402.5h2M983 403.5h1M1220 403.5h3M1233 403.5h10M1291 403.5h2M1363 403.5h1M983 404.5h1M1223 404.5h10M1293 404.5h1M1362 404.5h1M983 405.5h1M1294 405.5h1M1360 405.5h2M983 406.5h1M1295 406.5h1M1359 406.5h1M982 407.5h1M1296 407.5h1M1358 407.5h1M982 408.5h1M1297 408.5h2M1356 408.5h2M982 409.5h1M1299 409.5h2M1354 409.5h2M982 410.5h1M1301 410.5h2M1352 410.5h2M981 411.5h1M1303 411.5h1M1350 411.5h2M981 412.5h1M1304 412.5h2M1348 412.5h2M981 413.5h1M1306 413.5h1M1346 413.5h2M981 414.5h1M1307 414.5h1M1345 414.5h1M980 415.5h1M1308 415.5h2M1344 415.5h1M980 416.5h1M1310 416.5h2M1343 416.5h1M980 417.5h1M1312 417.5h2M1342 417.5h1M979 418.5h1M1314 418.5h2M1341 418.5h1M979 419.5h1M1316 419.5h2M1339 419.5h2M979 420.5h1M1318 420.5h2M1338 420.5h1M979 421.5h1M1320 421.5h2M1337 421.5h1M978 422.5h1M1322 422.5h2M1336 422.5h1M978 423.5h1M1324 423.5h2M1334 423.5h2M978 424.5h1M1326 424.5h2M1330 424.5h4M978 425.5h1M1328 425.5h2M977 426.5h1M977 427.5h1M977 428.5h1M977 429.5h1M976 430.5h1M976 431.5h1M976 432.5h1M976 433.5h1M975 434.5h1M975 435.5h1M975 436.5h1M975 437.5h1M974 438.5h1M974 439.5h1M974 440.5h1M974 441.5h1M973 442.5h1M973 443.5h1M973 444.5h1M973 445.5h1M972 446.5h1M972 447.5h1M972 448.5h1M972 449.5h1M971 450.5h1M971 451.5h1M971 452.5h1M971 453.5h1M971 454.5h1M970 455.5h1M970 456.5h1M970 457.5h1M970 458.5h1M969 459.5h1M969 460.5h1M969 461.5h1M969 462.5h1M968 463.5h1M968 464.5h1M968 465.5h1M968 466.5h1M968 467.5h1M967 468.5h1M967 469.5h1M967 470.5h1M967 471.5h1M966 472.5h1M966 473.5h1M966 474.5h1M966 475.5h1M965 476.5h1M965 477.5h1M965 478.5h1M965 479.5h1M964 480.5h1M964 481.5h1M964 482.5h1M964 483.5h1M963 484.5h1M963 485.5h1M963 486.5h1M963 487.5h1M962 488.5h1M962 489.5h1M962 490.5h1M961 491.5h1M961 492.5h1M961 493.5h1M960 494.5h1M960 495.5h1M960 496.5h1M960 497.5h1M959 498.5h1M959 499.5h1M959 500.5h1M958 501.5h1M958 502.5h1M958 503.5h1M957 504.5h1M957 505.5h1M957 506.5h1M956 507.5h1M956 508.5h1M956 509.5h1M955 510.5h1M955 511.5h1M954 512.5h1M954 513.5h1M954 514.5h1M953 515.5h1M953 516.5h1M953 517.5h1M952 518.5h1M952 519.5h1M951 520.5h1M951 521.5h1M951 522.5h1M950 523.5h1M950 524.5h1M950 525.5h1M949 526.5h1M949 527.5h1M949 528.5h1M949 529.5h1M948 530.5h1M948 531.5h1M948 532.5h1M948 533.5h1M947 534.5h1M947 535.5h1M947 536.5h1M947 537.5h1M946 538.5h1M946 539.5h1M946 540.5h1M946 541.5h1M945 542.5h1M945 543.5h1M945 544.5h1M944 545.5h1M944 546.5h1M943 547.5h1M943 548.5h1M942 549.5h1M942 550.5h1M941 551.5h1M941 552.5h1M940 553.5h1M940 554.5h1M939 555.5h1M939 556.5h1M938 557.5h1M938 558.5h1M937 559.5h1M937 560.5h1M936 561.5h1M910 562.5h9M936 562.5h1M905 563.5h5M919 563.5h12M935 563.5h1M902 564.5h3M931 564.5h5M900 565.5h2M898 566.5h2M896 567.5h2M895 568.5h1M894 569.5h1M893 570.5h1M891 571.5h2M890 572.5h1M889 573.5h1M888 574.5h1" fill="none" stroke="#3cb371" stroke-width="1"/>
<rect x="0" y="267" width="1683" height="1" fill="#ff4500" />
<rect x="0" y="289" width="1683" height="1" fill="#ff0000" />
<rect x="0" y="312" width="1683" height="1" fill="#32cd32" />
<rect x="0" y="331" width="1683" height="1" fill="#c0c0c0" />
<rect x="0" y="356" width="1683" height="1" fill="#0000ff" />
<rect x="0" y="386" width="1683" height="1" fill="#0000ff" />
<rect x="0" y="195" width="1" height="18" fill="#000" />
<rect x="-2" y="199" width="5" height="12" fill="#000" />
<rect x="-1" y="200" width="3" height="10" fill="#fff" />
<rect x="8" y="197" width="1" height="17" fill="#000" />
<rect x="6" y="199" width="5" height="9" fill="#000" />
<rect x="16" y="186" width="1" height="30" fill="#000" />
<rect x="14" y="191" width="5" height="17" fill="#000" />
<rect x="15" y="192" width="3" height="15" fill="#fff" />
<rect x="24" y="185" width="1" height="14" fill="#000" />
<rect x="22" y="190" width="5" height="6" fill="#000" />
<rect x="32" y="187" width="1" height="17" fill="#000" />
<rect x="30" y="189" width="5" height="7" fill="#000" />
<rect x="31" y="190" width="3" height="5" fill="#fff" />
<rect x="40" y="194" width="1" height="2" fill="#000" />
<rect x="38" y="195" width="5" height="1" fill="#000" />
<rect x="48" y="186" width="1" height="14" fill="#000" />
<rect x="46" y="188" width="5" height="8" fill="#000" />
<rect x="47" y="189" width="3" height="6" fill="#fff" />
<rect x="56" y="171" width="1" height="20" fill="#000" />
<rect x="54" y="174" width="5" height="15" fill="#000" />
<rect x="55" y="175" width="3" height="13" fill="#fff" />
<rect x="64" y="144" width="1" height="34" fill="#000" />
<rect x="62" y="147" width="5" height="28" fill="#000" />
<rect x="63" y="148" width="3" height="26" fill="#fff" />
<rect x="72" y="133" width="1" height="15" fill="#000" />
<rect x="70" y="135" width="5" height="12" fill="#000" />
<rect x="71" y="136" width="3" height="10" fill="#fff" />
<rect x="80" y="133" width="1" height="17" fill="#000" />
<rect x="78" y="135" width="5" height="6" fill="#000" />
<rect x="88" y="139" width="1" height="3" fill="#000" />
<rect x="86" y="139" width="5" height="3" fill="#000" />
<rect x="87" y="140" width="3" height="1" fill="#fff" />
<rect x="96" y="129" width="1" height="12" fill="#000" />
<rect x="94" y="138" width="5" height="2" fill="#000" />
<rect x="104" y="121" width="1" height="26" fill="#000" />
<rect x="102" y="138" width="5" height="5" fill="#000" />
<rect x="112" y="121" width="1" height="26" fill="#000" />
<rect x="110" y="125" width="5" height="17" fill="#000" />
<rect x="111" y="126" width="3" height="15" fill="#fff" />
<rect x="120" y="85" width="1" height="77" fill="#000" />
<rect x="118" y="90" width="5" height="36" fill="#000" />
<rect x="119" y="91" width="3" height="34" fill="#fff" />
<rect x="128" y="75" width="1" height="25" fill="#000" />
<rect x="126" y="80" width="5" height="12" fill="#000" />
<rect x="127" y="81" width="3" height="10" fill="#fff" />
<rect x="136" y="78" width="1" height="22" fill="#000" />
<rect x="134" y="82" width="5" height="14" fill="#000" />
<rect x="144" y="108" width="1" height="9" fill="#000" />
<rect x="142" y="108" width="5" height="1" fill="#000" />
<rect x="152" y="90" width="1" height="60" fill="#000" />
<rect x="150" y="95" width="5" height="49" fill="#000" />
<rect x="160" y="142" width="1" height="18" fill="#000" />
<rect x="158" y="143" width="5" height="11" fill="#000" />
<rect x="168" y="141" width="1" height="36" fill="#000" />
<rect x="166" y="153" width="5" height="17" fill="#000" />
<rect x="176" y="154" width="1" height="19" fill="#000" />
<rect x="174" y="169" width="5" height="2" fill="#000" />
<rect x="184" y="170" width="1" height="6" fill="#000" />
<rect x="182" y="172" width="5" height="3" fill="#000" />
<rect x="183" y="173" width="3" height="1" fill="#fff" />
<rect x="192" y="165" width="1" height="32" fill="#000" />
<rect x="190" y="172" width="5" height="16" fill="#000" />
<rect x="200" y="181" width="1" height="16" fill="#000" />
<rect x="198" y="187" width="5" height="4" fill="#000" />
<rect x="208" y="180" width="1" height="2" fill="#000" />
<rect x="206" y="181" width="5" height="1" fill="#000" />
<rect x="216" y="169" width="1" height="15" fill="#000" />
<rect x="214" y="173" width="5" height="9" fill="#000" />
<rect x="215" y="174" width="3" height="7" fill="#fff" />
<rect x="224" y="145" width="1" height="37" fill="#000" />
<rect x="222" y="150" width="5" height="24" fill="#000" />
<rect x="223" y="151" width="3" height="22" fill="#fff" />
<rect x="232" y="149" width="1" height="9" fill="#000" />
<rect x="230" y="151" width="5" height="7" fill="#000" />
<rect x="231" y="152" width="3" height="5" fill="#fff" />
<rect x="240" y="137" width="1" height="16" fill="#000" />
<rect x="238" y="146" width="5" height="6" fill="#000" />
<rect x="239" y="147" width="3" height="4" fill="#fff" />
<rect x="248" y="104" width="1" height="44" fill="#000" />
<rect x="246" y="113" width="5" height="34" fill="#000" />
<rect x="247" y="114" width="3" height="32" fill="#fff" />
<rect x="256" y="109" width="1" height="6" fill="#000" />
<rect x="254" y="112" width="5" height="2" fill="#000" />
<rect x="264" y="108" width="1" height="38" fill="#000" />
<rect x="262" y="112" width="5" height="26" fill="#000" />
<rect x="272" y="134" width="1" height="27" fill="#000" />
<rect x="270" y="138" width="5" height="17" fill="#000" />
<rect x="280" y="152" width="1" height="7" fill="#000" />
<rect x="278" y="154" width="5" height="4" fill="#000" />
<rect x="279" y="155" width="3" height="2" fill="#fff" />
<rect x="288" y="130" width="1" height="29" fill="#000" />
<rect x="286" y="131" width="5" height="24" fill="#000" />
<rect x="287" y="132" width="3" height="22" fill="#fff" />
<rect x="296" y="121" width="1" height="30" fill="#000" />
<rect x="294" y="131" width="5" height="15" fill="#000" />
<rect x="304" y="132" width="1" height="23" fill="#000" />
<rect x="302" y="145" width="5" height="3" fill="#000" />
<rect x="312" y="143" width="1" height="28" fill="#000" />
<rect x="310" y="148" width="5" height="9" fill="#000" />
<rect x="320" y="150" width="1" height="14" fill="#000" />
<rect x="318" y="156" width="5" height="3" fill="#000" />
<rect x="328" y="162" width="1" height="4" fill="#000" />
<rect x="326" y="163" width="5" height="3" fill="#000" />
<rect x="327" y="164" width="3" height="1" fill="#fff" />
<rect x="336" y="162" width="1" height="22" fill="#000" />
<rect x="334" y="163" width="5" height="15" fill="#000" />
<rect x="344" y="165" width="1" height="20" fill="#000" />
<rect x="342" y="168" width="5" height="10" fill="#000" />
<rect x="343" y="169" width="3" height="8" fill="#fff" />
<rect x="352" y="162" width="1" height="16" fill="#000" />
<rect x="350" y="164" width="5" height="5" fill="#000" />
<rect x="351" y="165" width="3" height="3" fill="#fff" />
<rect x="360" y="153" width="1" height="15" fill="#000" />
<rect x="358" y="155" width="5" height="9" fill="#000" />
<rect x="359" y="156" width="3" height="7" fill="#fff" />
<rect x="368" y="144" width="1" height="27" fill="#000" />
<rect x="366" y="155" width="5" height="15" fill="#000" />
<rect x="376" y="171" width="1" height="3" fill="#000" />
<rect x="374" y="172" width="5" height="2" fill="#000" />
<rect x="384" y="170" width="1" height="13" fill="#000" />
<rect x="382" y="172" width="5" height="1" fill="#000" />
<rect x="392" y="153" width="1" height="22" fill="#000" />
<rect x="390" y="162" width="5" height="11" fill="#000" />
<rect x="391" y="163" width="3" height="9" fill="#fff" />
<rect x="400" y="136" width="1" height="30" fill="#000" />
<rect x="398" y="138" width="5" height="25" fill="#000" />
<rect x="399" y="139" width="3" height="23" fill="#fff" />
<rect x="408" y="136" width="1" height="15" fill="#000" />
<rect x="406" y="138" width="5" height="7" fill="#000" />
<rect x="416" y="131" width="1" height="29" fill="#000" />
<rect x="414" y="144" width="5" height="11" fill="#000" />
<rect x="424" y="155" width="1" height="4" fill="#000" />
<rect x="422" y="155" width="5" height="4" fill="#000" />
<rect x="432" y="148" width="1" height="16" fill="#000" />
<rect x="430" y="158" width="5" height="2" fill="#000" />
<rect x="440" y="157" width="1" height="23" fill="#000" />
<rect x="438" y="159" width="5" height="10" fill="#000" />
<rect x="448" y="166" width="1" height="11" fill="#000" />
<rect x="446" y="167" width="5" height="2" fill="#000" />
<rect x="456" y="146" width="1" height="34" fill="#000" />
<rect x="454" y="152" width="5" height="17" fill="#000" />
<rect x="455" y="153" width="3" height="15" fill="#fff" />
<rect x="464" y="124" width="1" height="30" fill="#000" />
<rect x="462" y="124" width="5" height="29" fill="#000" />
<rect x="463" y="125" width="3" height="27" fill="#fff" />
<rect x="472" y="128" width="1" height="3" fill="#000" />
<rect x="470" y="129" width="5" height="2" fill="#000" />
<rect x="480" y="129" width="1" height="49" fill="#000" />
<rect x="478" y="129" width="5" height="46" fill="#000" />
<rect x="488" y="162" width="1" height="27" fill="#000" />
<rect x="486" y="166" width="5" height="9" fill="#000" />
<rect x="487" y="167" width="3" height="7" fill="#fff" />
<rect x="496" y="156" width="1" height="29" fill="#000" />
<rect x="494" y="166" width="5" height="9" fill="#000" />
<rect x="504" y="174" width="1" height="19" fill="#000" />
<rect x="502" y="174" width="5" height="17" fill="#000" />
<rect x="512" y="183" width="1" height="19" fill="#000" />
<rect x="510" y="190" width="5" height="12" fill="#000" />
<rect x="520" y="200" width="1" height="2" fill="#000" />
<rect x="518" y="200" width="5" height="2" fill="#000" />
<rect x="528" y="186" width="1" height="19" fill="#000" />
<rect x="526" y="194" width="5" height="7" fill="#000" />
<rect x="527" y="195" width="3" height="5" fill="#fff" />
<rect x="536" y="181" width="1" height="19" fill="#000" />
<rect x="534" y="184" width="5" height="11" fill="#000" />
<rect x="535" y="185" width="3" height="9" fill="#fff" />
<rect x="544" y="175" width="1" height="11" fill="#000" />
<rect x="542" y="184" width="5" height="1" fill="#000" />
<rect x="552" y="156" width="1" height="32" fill="#000" />
<rect x="550" y="162" width="5" height="23" fill="#000" />
<rect x="551" y="163" width="3" height="21" fill="#fff" />
<rect x="560" y="158" width="1" height="16" fill="#000" />
<rect x="558" y="162" width="5" height="4" fill="#000" />
<rect x="568" y="160" width="1" height="4" fill="#000" />
<rect x="566" y="161" width="5" height="2" fill="#000" />
<rect x="576" y="161" width="1" height="14" fill="#000" />
<rect x="574" y="161" width="5" height="12" fill="#000" />
<rect x="584" y="161" width="1" height="20" fill="#000" />
<rect x="582" y="172" width="5" height="2" fill="#000" />
<rect x="592" y="167" width="1" height="30" fill="#000" />
<rect x="590" y="173" width="5" height="19" fill="#000" />
<rect x="600" y="191" width="1" height="20" fill="#000" />
<rect x="598" y="191" width="5" height="12" fill="#000" />
<rect x="608" y="178" width="1" height="26" fill="#000" />
<rect x="606" y="180" width="5" height="23" fill="#000" />
<rect x="607" y="181" width="3" height="21" fill="#fff" />
<rect x="616" y="184" width="1" height="3" fill="#000" />
<rect x="614" y="185" width="5" height="2" fill="#000" />
<rect x="624" y="184" width="1" height="18" fill="#000" />
<rect x="622" y="185" width="5" height="8" fill="#000" />
<rect x="632" y="169" width="1" height="26" fill="#000" />
<rect x="630" y="173" width="5" height="20" fill="#000" />
<rect x="631" y="174" width="3" height="18" fill="#fff" />
<rect x="640" y="171" width="1" height="29" fill="#000" />
<rect x="638" y="173" width="5" height="24" fill="#000" />
<rect x="648" y="186" width="1" height="22" fill="#000" />
<rect x="646" y="196" width="5" height="6" fill="#000" />
<rect x="656" y="193" width="1" height="48" fill="#000" />
<rect x="654" y="201" width="5" height="24" fill="#000" />
<rect x="664" y="220" width="1" height="5" fill="#000" />
<rect x="662" y="221" width="5" height="2" fill="#000" />
<rect x="672" y="210" width="1" height="28" fill="#000" />
<rect x="670" y="221" width="5" height="10" fill="#000" />
<rect x="680" y="211" width="1" height="21" fill="#000" />
<rect x="678" y="217" width="5" height="14" fill="#000" />
<rect x="679" y="218" width="3" height="12" fill="#fff" />
<rect x="688" y="204" width="1" height="26" fill="#000" />
<rect x="686" y="205" width="5" height="13" fill="#000" />
<rect x="687" y="206" width="3" height="11" fill="#fff" />
<rect x="696" y="181" width="1" height="27" fill="#000" />
<rect x="694" y="186" width="5" height="20" fill="#000" />
<rect x="695" y="187" width="3" height="18" fill="#fff" />
<rect x="704" y="161" width="1" height="26" fill="#000" />
<rect x="702" y="170" width="5" height="17" fill="#000" />
<rect x="703" y="171" width="3" height="15" fill="#fff" />
<rect x="712" y="147" width="1" height="8" fill="#000" />
<rect x="710" y="150" width="5" height="3" fill="#000" />
<rect x="711" y="151" width="3" height="1" fill="#fff" />
<rect x="720" y="124" width="1" height="42" fill="#000" />
<rect x="718" y="150" width="5" height="7" fill="#000" />
<rect x="728" y="152" width="1" height="52" fill="#000" />
<rect x="726" y="155" width="5" height="42" fill="#000" />
<rect x="736" y="179" width="1" height="43" fill="#000" />
<rect x="734" y="196" width="5" height="23" fill="#000" />
<rect x="744" y="210" width="1" height="89" fill="#000" />
<rect x="742" y="218" width="5" height="61" fill="#000" />
<rect x="752" y="265" width="1" height="86" fill="#000" />
<rect x="750" y="278" width="5" height="66" fill="#000" />
<rect x="760" y="315" width="1" height="8" fill="#000" />
<rect x="758" y="320" width="5" height="2" fill="#000" />
<rect x="768" y="320" width="1" height="49" fill="#000" />
<rect x="766" y="321" width="5" height="33" fill="#000" />
<rect x="776" y="351" width="1" height="67" fill="#000" />
<rect x="774" y="353" width="5" height="37" fill="#000" />
<rect x="784" y="386" width="1" height="167" fill="#000" />
<rect x="782" y="389" width="5" height="125" fill="#000" />
<rect x="792" y="468" width="1" height="95" fill="#000" />
<rect x="790" y="513" width="5" height="30" fill="#000" />
<rect x="800" y="434" width="1" height="112" fill="#000" />
<rect x="798" y="524" width="5" height="19" fill="#000" />
<rect x="799" y="525" width="3" height="17" fill="#fff" />
<rect x="808" y="502" width="1" height="31" fill="#000" />
<rect x="806" y="511" width="5" height="19" fill="#000" />
<rect x="807" y="512" width="3" height="17" fill="#fff" />
<rect x="816" y="487" width="1" height="66" fill="#000" />
<rect x="814" y="511" width="5" height="7" fill="#000" />
<rect x="824" y="467" width="1" height="53" fill="#000" />
<rect x="822" y="469" width="5" height="49" fill="#000" />
<rect x="823" y="470" width="3" height="47" fill="#fff" />
<rect x="832" y="424" width="1" height="83" fill="#000" />
<rect x="830" y="454" width="5" height="15" fill="#000" />
<rect x="831" y="455" width="3" height="13" fill="#fff" />
<rect x="840" y="362" width="1" height="101" fill="#000" />
<rect x="838" y="371" width="5" height="84" fill="#000" />
<rect x="839" y="372" width="3" height="82" fill="#fff" />
<rect x="848" y="299" width="1" height="84" fill="#000" />
<rect x="846" y="300" width="5" height="72" fill="#000" />
<rect x="847" y="301" width="3" height="70" fill="#fff" />
<rect x="856" y="306" width="1" height="15" fill="#000" />
<rect x="854" y="308" width="5" height="13" fill="#000" />
<rect x="855" y="309" width="3" height="11" fill="#fff" />
<rect x="864" y="304" width="1" height="37" fill="#000" />
<rect x="862" y="308" width="5" height="21" fill="#000" />
<rect x="872" y="302" width="1" height="56" fill="#000" />
<rect x="870" y="319" width="5" height="10" fill="#000" />
<rect x="871" y="320" width="3" height="8" fill="#fff" />
<rect x="880" y="310" width="1" height="28" fill="#000" />
<rect x="878" y="318" width="5" height="8" fill="#000" />
<rect x="888" y="302" width="1" height="31" fill="#000" />
<rect x="886" y="322" width="5" height="3" fill="#000" />
<rect x="887" y="323" width="3" height="1" fill="#fff" />
<rect x="896" y="321" width="1" height="47" fill="#000" />
<rect x="894" y="322" width="5" height="30" fill="#000" />
<rect x="904" y="358" width="1" height="9" fill="#000" />
<rect x="902" y="359" width="5" height="6" fill="#000" />
<rect x="912" y="338" width="1" height="41" fill="#000" />
<rect x="910" y="361" width="5" height="4" fill="#000" />
<rect x="911" y="362" width="3" height="2" fill="#fff" />
<rect x="920" y="324" width="1" height="41" fill="#000" />
<rect x="918" y="335" width="5" height="27" fill="#000" />
<rect x="919" y="336" width="3" height="25" fill="#fff" />
<rect x="928" y="315" width="1" height="33" fill="#000" />
<rect x="926" y="322" width="5" height="14" fill="#000" />
<rect x="927" y="323" width="3" height="12" fill="#fff" />
<rect x="936" y="299" width="1" height="31" fill="#000" />
<rect x="934" y="307" width="5" height="16" fill="#000" />
<rect x="935" y="308" width="3" height="14" fill="#fff" />
<rect x="944" y="302" width="1" height="5" fill="#000" />
<rect x="942" y="302" width="5" height="4" fill="#000" />
<rect x="952" y="287" width="1" height="21" fill="#000" />
<rect x="950" y="290" width="5" height="16" fill="#000" />
<rect x="951" y="291" width="3" height="14" fill="#fff" />
<rect x="960" y="259" width="1" height="35" fill="#000" />
<rect x="958" y="265" width="5" height="27" fill="#000" />
<rect x="959" y="266" width="3" height="25" fill="#fff" />
<rect x="968" y="265" width="1" height="47" fill="#000" />
<rect x="966" y="265" width="5" height="27" fill="#000" />
<rect x="976" y="290" width="1" height="29" fill="#000" />
<rect x="974" y="291" width="5" height="8" fill="#000" />
<rect x="984" y="290" width="1" height="29" fill="#000" />
<rect x="982" y="298" width="5" height="1" fill="#000" />
<rect x="992" y="297" width="1" height="3" fill="#000" />
<rect x="990" y="297" width="5" height="3" fill="#000" />
<rect x="1000" y="297" width="1" height="20" fill="#000" />
<rect x="998" y="299" width="5" height="12" fill="#000" />
<rect x="1008" y="310" width="1" height="48" fill="#000" />
<rect x="1006" y="310" width="5" height="35" fill="#000" />
<rect x="1016" y="323" width="1" height="28" fill="#000" />
<rect x="1014" y="339" width="5" height="6" fill="#000" />
<rect x="1015" y="340" width="3" height="4" fill="#fff" />
<rect x="1024" y="316" width="1" height="27" fill="#000" />
<rect x="1022" y="332" width="5" height="8" fill="#000" />
<rect x="1023" y="333" width="3" height="6" fill="#fff" />
<rect x="1032" y="325" width="1" height="21" fill="#000" />
<rect x="1030" y="332" width="5" height="1" fill="#000" />
<rect x="1040" y="327" width="1" height="3" fill="#000" />
<rect x="1038" y="328" width="5" height="1" fill="#000" />
<rect x="1048" y="306" width="1" height="25" fill="#000" />
<rect x="1046" y="315" width="5" height="14" fill="#000" />
<rect x="1047" y="316" width="3" height="12" fill="#fff" />
<rect x="1056" y="291" width="1" height="28" fill="#000" />
<rect x="1054" y="311" width="5" height="5" fill="#000" />
<rect x="1055" y="312" width="3" height="3" fill="#fff" />
<rect x="1064" y="299" width="1" height="24" fill="#000" />
<rect x="1062" y="303" width="5" height="10" fill="#000" />
<rect x="1063" y="304" width="3" height="8" fill="#fff" />
<rect x="1072" y="260" width="1" height="54" fill="#000" />
<rect x="1070" y="276" width="5" height="28" fill="#000" />
<rect x="1071" y="277" width="3" height="26" fill="#fff" />
<rect x="1080" y="275" width="1" height="25" fill="#000" />
<rect x="1078" y="276" width="5" height="24" fill="#000" />
<rect x="1088" y="304" width="1" height="5" fill="#000" />
<rect x="1086" y="306" width="5" height="1" fill="#000" />
<rect x="1096" y="301" width="1" height="18" fill="#000" />
<rect x="1094" y="306" width="5" height="4" fill="#000" />
<rect x="1104" y="299" width="1" height="17" fill="#000" />
<rect x="1102" y="309" width="5" height="1" fill="#000" />
<rect x="1112" y="307" width="1" height="33" fill="#000" />
<rect x="1110" y="309" width="5" height="30" fill="#000" />
<rect x="1120" y="315" width="1" height="38" fill="#000" />
<rect x="1118" y="326" width="5" height="13" fill="#000" />
<rect x="1119" y="327" width="3" height="11" fill="#fff" />
<rect x="1128" y="303" width="1" height="28" fill="#000" />
<rect x="1126" y="317" width="5" height="10" fill="#000" />
<rect x="1127" y="318" width="3" height="8" fill="#fff" />
<rect x="1136" y="316" width="1" height="5" fill="#000" />
<rect x="1134" y="316" width="5" height="3" fill="#000" />
<rect x="1135" y="317" width="3" height="1" fill="#fff" />
<rect x="1144" y="311" width="1" height="38" fill="#000" />
<rect x="1142" y="316" width="5" height="21" fill="#000" />
<rect x="1152" y="325" width="1" height="32" fill="#000" />
<rect x="1150" y="336" width="5" height="21" fill="#000" />
<rect x="1160" y="334" width="1" height="33" fill="#000" />
<rect x="1158" y="356" width="5" height="4" fill="#000" />
<rect x="1168" y="359" width="1" height="19" fill="#000" />
<rect x="1166" y="359" width="5" height="2" fill="#000" />
<rect x="1176" y="359" width="1" height="32" fill="#000" />
<rect x="1174" y="360" width="5" height="30" fill="#000" />
<rect x="1184" y="394" width="1" height="5" fill="#000" />
<rect x="1182" y="395" width="5" height="3" fill="#000" />
<rect x="1192" y="362" width="1" height="36" fill="#000" />
<rect x="1190" y="369" width="5" height="28" fill="#000" />
<rect x="1191" y="370" width="3" height="26" fill="#fff" />
<rect x="1200" y="345" width="1" height="29" fill="#000" />
<rect x="1198" y="355" width="5" height="15" fill="#000" />
<rect x="1199" y="356" width="3" height="13" fill="#fff" />
<rect x="1208" y="347" width="1" height="17" fill="#000" />
<rect x="1206" y="355" width="5" height="6" fill="#000" />
<rect x="1216" y="357" width="1" height="13" fill="#000" />
<rect x="1214" y="360" width="5" height="4" fill="#000" />
<rect x="1224" y="362" width="1" height="17" fill="#000" />
<rect x="1222" y="363" width="5" height="13" fill="#000" />
<rect x="1232" y="372" width="1" height="2" fill="#000" />
<rect x="1230" y="372" width="5" height="1" fill="#000" />
<rect x="1240" y="368" width="1" height="10" fill="#000" />
<rect x="1238" y="368" width="5" height="5" fill="#000" />
<rect x="1239" y="369" width="3" height="3" fill="#fff" />
<rect x="1248" y="329" width="1" height="41" fill="#000" />
<rect x="1246" y="336" width="5" height="33" fill="#000" />
<rect x="1247" y="337" width="3" height="31" fill="#fff" />
<rect x="1256" y="332" width="1" height="36" fill="#000" />
<rect x="1254" y="336" width="5" height="17" fill="#000" />
<rect x="1264" y="333" width="1" height="28" fill="#000" />
<rect x="1262" y="340" width="5" height="13" fill="#000" />
<rect x="1263" y="341" width="3" height="11" fill="#fff" />
<rect x="1272" y="321" width="1" height="26" fill="#000" />
<rect x="1270" y="338" width="5" height="3" fill="#000" />
<rect x="1271" y="339" width="3" height="1" fill="#fff" />
<rect x="1280" y="332" width="1" height="3" fill="#000" />
<rect x="1278" y="333" width="5" height="1" fill="#000" />
<rect x="1288" y="294" width="1" height="40" fill="#000" />
<rect x="1286" y="299" width="5" height="35" fill="#000" />
<rect x="1287" y="300" width="3" height="33" fill="#fff" />
<rect x="1296" y="275" width="1" height="27" fill="#000" />
<rect x="1294" y="276" width="5" height="24" fill="#000" />
<rect x="1295" y="277" width="3" height="22" fill="#fff" />
<rect x="1304" y="267" width="1" height="16" fill="#000" />
<rect x="1302" y="277" width="5" height="1" fill="#000" />
<rect x="1312" y="263" width="1" height="33" fill="#000" />
<rect x="1310" y="270" width="5" height="8" fill="#000" />
<rect x="1311" y="271" width="3" height="6" fill="#fff" />
<rect x="1320" y="239" width="1" height="37" fill="#000" />
<rect x="1318" y="254" width="5" height="17" fill="#000" />
<rect x="1319" y="255" width="3" height="15" fill="#fff" />
<rect x="1328" y="239" width="1" height="13" fill="#000" />
<rect x="1326" y="242" width="5" height="10" fill="#000" />
<rect x="1327" y="243" width="3" height="8" fill="#fff" />
<rect x="1336" y="238" width="1" height="27" fill="#000" />
<rect x="1334" y="238" width="5" height="5" fill="#000" />
<rect x="1335" y="239" width="3" height="3" fill="#fff" />
<rect x="1344" y="233" width="1" height="34" fill="#000" />
<rect x="1342" y="238" width="5" height="7" fill="#000" />
<rect x="1352" y="219" width="1" height="27" fill="#000" />
<rect x="1350" y="244" width="5" height="1" fill="#000" />
<rect x="1360" y="234" width="1" height="45" fill="#000" />
<rect x="1358" y="244" width="5" height="34" fill="#000" />
<rect x="1368" y="258" width="1" height="45" fill="#000" />
<rect x="1366" y="277" width="5" height="22" fill="#000" />
<rect x="1376" y="291" width="1" height="6" fill="#000" />
<rect x="1374" y="293" width="5" height="1" fill="#000" />
<rect x="1384" y="262" width="1" height="45" fill="#000" />
<rect x="1382" y="262" width="5" height="32" fill="#000" />
<rect x="1383" y="263" width="3" height="30" fill="#fff" />
<rect x="1392" y="253" width="1" height="30" fill="#000" />
<rect x="1390" y="261" width="5" height="15" fill="#000" />
<rect x="1400" y="274" width="1" height="20" fill="#000" />
<rect x="1398" y="275" width="5" height="9" fill="#000" />
<rect x="1408" y="280" width="1" height="33" fill="#000" />
<rect x="1406" y="283" width="5" height="30" fill="#000" />
<rect x="1416" y="306" width="1" height="26" fill="#000" />
<rect x="1414" y="313" width="5" height="19" fill="#000" />
</g>
<g clip-path="url(#cm)">
<line x1="1193.5" y1="397.5" x2="1348.1" y2="226.4" stroke="#ff0000" stroke-width="3.0" stroke-linecap="butt"/>
<polygon points="1352.5,221.5 1348.8,233.0 1341.4,226.3" fill="#ff0000"/>
<line x1="1352.5" y1="221.5" x2="1374.8" y2="300.2" stroke="#ff0000" stroke-width="3.5" stroke-linecap="butt"/>
<polygon points="1376.6,306.6 1368.8,297.4 1378.4,294.7" fill="#ff0000"/>
<line x1="1376.6" y1="306.6" x2="1395.0" y2="249.7" stroke="#ff0000" stroke-width="3.5" stroke-linecap="butt"/>
<polygon points="1397.0,243.4 1398.4,255.4 1388.9,252.3" fill="#ff0000"/>
<line x1="1397.0" y1="243.4" x2="1417.3" y2="340.3" stroke="#ff0000" stroke-width="3.5" stroke-linecap="butt"/>
<polygon points="1418.7,346.8 1411.5,337.1 1421.3,335.0" fill="#ff0000"/>
<rect x="1343" y="312" width="112" height="8" fill="#00f000" class="c"/>
</g>
<rect x="1489" y="312" width="8" height="1" fill="#ff0000" class="c"/>
<rect x="1496.5" y="310.5" width="3" height="3" fill="#fff" stroke="#ff0000" stroke-width="1" class="c"/>
<rect x="1499.5" y="300.5" width="73" height="24" fill="#fff" stroke="#ff0000" stroke-width="1" class="c"/>
<text x="1536" y="320.2" font-size="22" fill="#ff0000" text-anchor="middle" textLength="70.5" lengthAdjust="spacingAndGlyphs">1.24309</text>
<text x="1450.5" y="377.3" font-size="19.6" fill="#00ff00" text-anchor="start" textLength="112" lengthAdjust="spacing" font-weight="500">多空转折点</text>
<polygon points="0,30.3 2.8,33 0,33" fill="#000"/>
<text x="7" y="33.9" font-size="9.8" fill="#000" text-anchor="start" stroke="#000" stroke-width="0.3" textLength="66.5" lengthAdjust="spacingAndGlyphs">GBPUSD-,Daily</text>
<text x="80.8" y="33.9" font-size="9.8" fill="#000" text-anchor="start" stroke="#000" stroke-width="0.3" textLength="32" lengthAdjust="spacingAndGlyphs">1.24246</text>
<text x="116.8" y="33.9" font-size="9.8" fill="#000" text-anchor="start" stroke="#000" stroke-width="0.3" textLength="32" lengthAdjust="spacingAndGlyphs">1.24550</text>
<text x="152.6" y="33.9" font-size="9.8" fill="#000" text-anchor="start" stroke="#000" stroke-width="0.3" textLength="32" lengthAdjust="spacingAndGlyphs">1.23429</text>
<text x="188.6" y="33.9" font-size="9.8" fill="#000" text-anchor="start" stroke="#000" stroke-width="0.3" textLength="32" lengthAdjust="spacingAndGlyphs">1.23536</text>
<polygon points="1423.5,23 1433.5,23 1428.5,28.5" fill="#c0c0c0"/>
<g class="c" clip-path="url(#cd)">
<rect x="0" y="616" width="1" height="10" fill="#c0c0c0" />
<rect x="8" y="617" width="1" height="9" fill="#c0c0c0" />
<rect x="16" y="617" width="1" height="9" fill="#c0c0c0" />
<rect x="24" y="617" width="1" height="9" fill="#c0c0c0" />
<rect x="32" y="616" width="1" height="10" fill="#c0c0c0" />
<rect x="40" y="617" width="1" height="9" fill="#c0c0c0" />
<rect x="48" y="616" width="1" height="10" fill="#c0c0c0" />
<rect x="56" y="615" width="1" height="11" fill="#c0c0c0" />
<rect x="64" y="611" width="1" height="15" fill="#c0c0c0" />
<rect x="72" y="607" width="1" height="19" fill="#c0c0c0" />
<rect x="80" y="604" width="1" height="22" fill="#c0c0c0" />
<rect x="88" y="603" width="1" height="23" fill="#c0c0c0" />
<rect x="96" y="601" width="1" height="25" fill="#c0c0c0" />
<rect x="104" y="601" width="1" height="25" fill="#c0c0c0" />
<rect x="112" y="599" width="1" height="27" fill="#c0c0c0" />
<rect x="120" y="591" width="1" height="35" fill="#c0c0c0" />
<rect x="128" y="590" width="1" height="36" fill="#c0c0c0" />
<rect x="136" y="589" width="1" height="37" fill="#c0c0c0" />
<rect x="144" y="588" width="1" height="38" fill="#c0c0c0" />
<rect x="152" y="594" width="1" height="32" fill="#c0c0c0" />
<rect x="160" y="599" width="1" height="27" fill="#c0c0c0" />
<rect x="168" y="605" width="1" height="21" fill="#c0c0c0" />
<rect x="176" y="610" width="1" height="16" fill="#c0c0c0" />
<rect x="184" y="614" width="1" height="12" fill="#c0c0c0" />
<rect x="192" y="619" width="1" height="7" fill="#c0c0c0" />
<rect x="200" y="624" width="1" height="2" fill="#c0c0c0" />
<rect x="216" y="625" width="1" height="1" fill="#c0c0c0" />
<rect x="232" y="625" width="1" height="1" fill="#c0c0c0" />
<rect x="240" y="623" width="1" height="3" fill="#c0c0c0" />
<rect x="248" y="619" width="1" height="7" fill="#c0c0c0" />
<rect x="256" y="616" width="1" height="10" fill="#c0c0c0" />
<rect x="264" y="616" width="1" height="10" fill="#c0c0c0" />
<rect x="272" y="618" width="1" height="8" fill="#c0c0c0" />
<rect x="280" y="619" width="1" height="7" fill="#c0c0c0" />
<rect x="288" y="619" width="1" height="7" fill="#c0c0c0" />
<rect x="296" y="619" width="1" height="7" fill="#c0c0c0" />
<rect x="304" y="620" width="1" height="6" fill="#c0c0c0" />
<rect x="312" y="621" width="1" height="5" fill="#c0c0c0" />
<rect x="320" y="623" width="1" height="3" fill="#c0c0c0" />
<rect x="328" y="625" width="1" height="1" fill="#c0c0c0" />
<rect x="344" y="625" width="1" height="3" fill="#c0c0c0" />
<rect x="352" y="625" width="1" height="3" fill="#c0c0c0" />
<rect x="360" y="625" width="1" height="3" fill="#c0c0c0" />
<rect x="368" y="625" width="1" height="4" fill="#c0c0c0" />
<rect x="376" y="625" width="1" height="5" fill="#c0c0c0" />
<rect x="384" y="625" width="1" height="6" fill="#c0c0c0" />
<rect x="392" y="625" width="1" height="4" fill="#c0c0c0" />
<rect x="400" y="625" width="1" height="2" fill="#c0c0c0" />
<rect x="424" y="625" width="1" height="1" fill="#c0c0c0" />
<rect x="432" y="625" width="1" height="1" fill="#c0c0c0" />
<rect x="440" y="625" width="1" height="2" fill="#c0c0c0" />
<rect x="448" y="625" width="1" height="2" fill="#c0c0c0" />
<rect x="456" y="625" width="1" height="2" fill="#c0c0c0" />
<rect x="464" y="624" width="1" height="2" fill="#c0c0c0" />
<rect x="472" y="622" width="1" height="4" fill="#c0c0c0" />
<rect x="480" y="625" width="1" height="1" fill="#c0c0c0" />
<rect x="496" y="625" width="1" height="1" fill="#c0c0c0" />
<rect x="504" y="625" width="1" height="4" fill="#c0c0c0" />
<rect x="512" y="625" width="1" height="9" fill="#c0c0c0" />
<rect x="520" y="625" width="1" height="10" fill="#c0c0c0" />
<rect x="528" y="625" width="1" height="11" fill="#c0c0c0" />
<rect x="536" y="625" width="1" height="11" fill="#c0c0c0" />
<rect x="544" y="625" width="1" height="11" fill="#c0c0c0" />
<rect x="552" y="625" width="1" height="9" fill="#c0c0c0" />
<rect x="560" y="625" width="1" height="8" fill="#c0c0c0" />
<rect x="568" y="625" width="1" height="6" fill="#c0c0c0" />
<rect x="576" y="625" width="1" height="5" fill="#c0c0c0" />
<rect x="584" y="625" width="1" height="5" fill="#c0c0c0" />
<rect x="592" y="625" width="1" height="6" fill="#c0c0c0" />
<rect x="600" y="625" width="1" height="8" fill="#c0c0c0" />
<rect x="608" y="625" width="1" height="8" fill="#c0c0c0" />
<rect x="616" y="625" width="1" height="7" fill="#c0c0c0" />
<rect x="624" y="625" width="1" height="8" fill="#c0c0c0" />
<rect x="632" y="625" width="1" height="7" fill="#c0c0c0" />
<rect x="640" y="625" width="1" height="7" fill="#c0c0c0" />
<rect x="648" y="625" width="1" height="8" fill="#c0c0c0" />
<rect x="656" y="625" width="1" height="13" fill="#c0c0c0" />
<rect x="664" y="625" width="1" height="15" fill="#c0c0c0" />
<rect x="672" y="625" width="1" height="17" fill="#c0c0c0" />
<rect x="680" y="625" width="1" height="18" fill="#c0c0c0" />
<rect x="688" y="625" width="1" height="16" fill="#c0c0c0" />
<rect x="696" y="625" width="1" height="13" fill="#c0c0c0" />
<rect x="704" y="625" width="1" height="9" fill="#c0c0c0" />
<rect x="712" y="625" width="1" height="4" fill="#c0c0c0" />
<rect x="728" y="625" width="1" height="1" fill="#c0c0c0" />
<rect x="736" y="625" width="1" height="4" fill="#c0c0c0" />
<rect x="744" y="625" width="1" height="13" fill="#c0c0c0" />
<rect x="752" y="625" width="1" height="26" fill="#c0c0c0" />
<rect x="760" y="625" width="1" height="34" fill="#c0c0c0" />
<rect x="768" y="625" width="1" height="43" fill="#c0c0c0" />
<rect x="776" y="625" width="1" height="54" fill="#c0c0c0" />
<rect x="784" y="625" width="1" height="74" fill="#c0c0c0" />
<rect x="792" y="625" width="1" height="92" fill="#c0c0c0" />
<rect x="800" y="625" width="1" height="103" fill="#c0c0c0" />
<rect x="808" y="625" width="1" height="110" fill="#c0c0c0" />
<rect x="816" y="625" width="1" height="114" fill="#c0c0c0" />
<rect x="824" y="625" width="1" height="111" fill="#c0c0c0" />
<rect x="832" y="625" width="1" height="106" fill="#c0c0c0" />
<rect x="840" y="625" width="1" height="92" fill="#c0c0c0" />
<rect x="848" y="625" width="1" height="73" fill="#c0c0c0" />
<rect x="856" y="625" width="1" height="58" fill="#c0c0c0" />
<rect x="864" y="625" width="1" height="48" fill="#c0c0c0" />
<rect x="872" y="625" width="1" height="37" fill="#c0c0c0" />
<rect x="880" y="625" width="1" height="31" fill="#c0c0c0" />
<rect x="888" y="625" width="1" height="24" fill="#c0c0c0" />
<rect x="896" y="625" width="1" height="22" fill="#c0c0c0" />
<rect x="904" y="625" width="1" height="22" fill="#c0c0c0" />
<rect x="912" y="625" width="1" height="20" fill="#c0c0c0" />
<rect x="920" y="625" width="1" height="17" fill="#c0c0c0" />
<rect x="928" y="625" width="1" height="12" fill="#c0c0c0" />
<rect x="936" y="625" width="1" height="7" fill="#c0c0c0" />
<rect x="944" y="625" width="1" height="3" fill="#c0c0c0" />
<rect x="952" y="625" width="1" height="1" fill="#c0c0c0" />
<rect x="960" y="617" width="1" height="9" fill="#c0c0c0" />
<rect x="968" y="615" width="1" height="11" fill="#c0c0c0" />
<rect x="976" y="614" width="1" height="12" fill="#c0c0c0" />
<rect x="984" y="613" width="1" height="13" fill="#c0c0c0" />
<rect x="992" y="613" width="1" height="13" fill="#c0c0c0" />
<rect x="1000" y="614" width="1" height="12" fill="#c0c0c0" />
<rect x="1008" y="619" width="1" height="7" fill="#c0c0c0" />
<rect x="1016" y="622" width="1" height="4" fill="#c0c0c0" />
<rect x="1024" y="624" width="1" height="2" fill="#c0c0c0" />
<rect x="1032" y="625" width="1" height="1" fill="#c0c0c0" />
<rect x="1048" y="625" width="1" height="1" fill="#c0c0c0" />
<rect x="1056" y="624" width="1" height="2" fill="#c0c0c0" />
<rect x="1064" y="622" width="1" height="4" fill="#c0c0c0" />
<rect x="1072" y="618" width="1" height="8" fill="#c0c0c0" />
<rect x="1080" y="618" width="1" height="8" fill="#c0c0c0" />
<rect x="1088" y="618" width="1" height="8" fill="#c0c0c0" />
<rect x="1096" y="619" width="1" height="7" fill="#c0c0c0" />
<rect x="1104" y="619" width="1" height="7" fill="#c0c0c0" />
<rect x="1112" y="623" width="1" height="3" fill="#c0c0c0" />
<rect x="1120" y="624" width="1" height="2" fill="#c0c0c0" />
<rect x="1128" y="625" width="1" height="1" fill="#c0c0c0" />
<rect x="1136" y="625" width="1" height="1" fill="#c0c0c0" />
<rect x="1144" y="625" width="1" height="1" fill="#c0c0c0" />
<rect x="1152" y="625" width="1" height="5" fill="#c0c0c0" />
<rect x="1160" y="625" width="1" height="8" fill="#c0c0c0" />
<rect x="1168" y="625" width="1" height="11" fill="#c0c0c0" />
<rect x="1176" y="625" width="1" height="16" fill="#c0c0c0" />
<rect x="1184" y="625" width="1" height="20" fill="#c0c0c0" />
<rect x="1192" y="625" width="1" height="20" fill="#c0c0c0" />
<rect x="1200" y="625" width="1" height="19" fill="#c0c0c0" />
<rect x="1208" y="625" width="1" height="18" fill="#c0c0c0" />
<rect x="1216" y="625" width="1" height="18" fill="#c0c0c0" />
<rect x="1224" y="625" width="1" height="18" fill="#c0c0c0" />
<rect x="1232" y="625" width="1" height="18" fill="#c0c0c0" />
<rect x="1240" y="625" width="1" height="18" fill="#c0c0c0" />
<rect x="1248" y="625" width="1" height="13" fill="#c0c0c0" />
<rect x="1256" y="625" width="1" height="12" fill="#c0c0c0" />
<rect x="1264" y="625" width="1" height="9" fill="#c0c0c0" />
<rect x="1272" y="625" width="1" height="6" fill="#c0c0c0" />
<rect x="1280" y="625" width="1" height="4" fill="#c0c0c0" />
<rect x="1288" y="625" width="1" height="1" fill="#c0c0c0" />
<rect x="1296" y="618" width="1" height="8" fill="#c0c0c0" />
<rect x="1304" y="613" width="1" height="13" fill="#c0c0c0" />
<rect x="1312" y="609" width="1" height="17" fill="#c0c0c0" />
<rect x="1320" y="604" width="1" height="22" fill="#c0c0c0" />
<rect x="1328" y="599" width="1" height="27" fill="#c0c0c0" />
<rect x="1336" y="595" width="1" height="31" fill="#c0c0c0" />
<rect x="1344" y="593" width="1" height="33" fill="#c0c0c0" />
<rect x="1352" y="592" width="1" height="34" fill="#c0c0c0" />
<rect x="1360" y="594" width="1" height="32" fill="#c0c0c0" />
<rect x="1368" y="599" width="1" height="27" fill="#c0c0c0" />
<rect x="1376" y="603" width="1" height="23" fill="#c0c0c0" />
<rect x="1384" y="602" width="1" height="24" fill="#c0c0c0" />
<rect x="1392" y="604" width="1" height="22" fill="#c0c0c0" />
<rect x="1400" y="606" width="1" height="20" fill="#c0c0c0" />
<rect x="1408" y="611" width="1" height="15" fill="#c0c0c0" />
<rect x="1416" y="617" width="1" height="9" fill="#c0c0c0" />
<path d="M157 593.5h2M162 593.5h3M150 594.5h3M156 594.5h1M168 594.5h3M174 594.5h1M144 595.5h3M175 595.5h2M180 595.5h1M138 596.5h3M181 596.5h2M186 597.5h2M1379 597.5h2M1384 597.5h3M1390 597.5h3M1396 597.5h3M134 598.5h1M188 598.5h1M1372 598.5h3M1378 598.5h1M1402 598.5h3M132 599.5h2M192 599.5h2M1368 599.5h1M194 600.5h1M1366 600.5h2M1408 600.5h3M126 601.5h3M1360 601.5h3M1414 601.5h3M121 602.5h2M198 602.5h2M1356 602.5h1M120 603.5h1M200 603.5h1M1354 603.5h2M114 604.5h3M110 605.5h1M204 605.5h2M1350 605.5h1M108 606.5h2M206 606.5h1M1348 606.5h2M102 607.5h3M98 608.5h1M210 608.5h2M96 609.5h2M212 609.5h1M1343 609.5h2M90 610.5h3M1342 610.5h1M0 611.5h3M6 611.5h3M12 611.5h2M86 611.5h1M216 611.5h2M14 612.5h1M18 612.5h2M84 612.5h2M218 612.5h1M1338 612.5h1M20 613.5h1M24 613.5h3M78 613.5h3M1337 613.5h1M30 614.5h3M36 614.5h3M72 614.5h3M222 614.5h1M1336 614.5h1M42 615.5h3M48 615.5h3M54 615.5h3M60 615.5h3M66 615.5h3M223 615.5h2M1012 616.5h3M1018 616.5h3M1024 616.5h3M1331 616.5h2M228 617.5h2M306 617.5h3M312 617.5h3M1006 617.5h3M1030 617.5h3M1330 617.5h1M230 618.5h1M294 618.5h3M300 618.5h3M318 618.5h3M1000 618.5h3M1036 618.5h3M1042 618.5h3M234 619.5h3M284 619.5h1M288 619.5h3M324 619.5h3M330 619.5h3M1048 619.5h3M1325 619.5h2M240 620.5h1M276 620.5h3M282 620.5h2M336 620.5h3M995 620.5h2M1054 620.5h3M1097 620.5h2M1102 620.5h3M1108 620.5h3M1114 620.5h3M1120 620.5h3M1126 620.5h3M1132 620.5h3M1138 620.5h3M1144 620.5h3M1324 620.5h1M241 621.5h2M264 621.5h3M270 621.5h3M342 621.5h3M994 621.5h1M1060 621.5h3M1066 621.5h3M1072 621.5h1M1084 621.5h3M1090 621.5h3M1096 621.5h1M246 622.5h3M252 622.5h3M258 622.5h3M348 622.5h3M990 622.5h1M1073 622.5h2M1078 622.5h3M1150 622.5h3M1320 622.5h1M354 623.5h3M988 623.5h2M1156 623.5h3M1318 623.5h2M360 624.5h3M983 624.5h2M1162 624.5h3M366 625.5h3M372 625.5h3M468 625.5h3M474 625.5h3M480 625.5h3M486 625.5h3M492 625.5h3M498 625.5h3M504 625.5h2M982 625.5h1M1314 625.5h1M378 626.5h3M384 626.5h1M462 626.5h3M506 626.5h1M510 626.5h3M516 626.5h2M1168 626.5h2M1312 626.5h2M385 627.5h2M390 627.5h1M438 627.5h3M444 627.5h3M450 627.5h3M456 627.5h3M518 627.5h1M522 627.5h2M977 627.5h2M1170 627.5h1M391 628.5h2M396 628.5h3M420 628.5h3M426 628.5h3M432 628.5h3M524 628.5h1M528 628.5h3M976 628.5h1M1174 628.5h3M1308 628.5h1M402 629.5h3M408 629.5h3M414 629.5h3M534 629.5h3M972 629.5h1M1306 629.5h2M540 630.5h1M970 630.5h2M1180 630.5h3M541 631.5h2M1301 631.5h2M546 632.5h3M612 632.5h3M618 632.5h3M624 632.5h3M630 632.5h3M636 632.5h3M642 632.5h3M648 632.5h2M966 632.5h1M1186 632.5h2M1300 632.5h1M552 633.5h3M590 633.5h1M594 633.5h3M600 633.5h3M606 633.5h3M650 633.5h1M964 633.5h2M1188 633.5h1M1296 633.5h1M558 634.5h3M564 634.5h3M570 634.5h3M576 634.5h3M582 634.5h3M588 634.5h2M654 634.5h3M660 634.5h2M732 634.5h3M738 634.5h3M744 634.5h3M1192 634.5h3M1294 634.5h2M662 635.5h1M666 635.5h3M672 635.5h2M727 635.5h2M750 635.5h3M960 635.5h1M1198 635.5h2M1289 635.5h2M674 636.5h1M678 636.5h2M726 636.5h1M756 636.5h1M958 636.5h2M1200 636.5h1M1288 636.5h1M680 637.5h1M684 637.5h3M690 637.5h1M720 637.5h3M757 637.5h2M1204 637.5h3M1282 637.5h3M691 638.5h2M696 638.5h3M702 638.5h3M708 638.5h3M714 638.5h3M762 638.5h1M954 638.5h1M1210 638.5h2M1278 638.5h1M763 639.5h2M952 639.5h2M1212 639.5h1M1276 639.5h2M1216 640.5h3M1270 640.5h3M768 641.5h2M947 641.5h2M1222 641.5h3M1259 641.5h2M1264 641.5h3M770 642.5h1M946 642.5h1M1228 642.5h3M1253 642.5h2M1258 642.5h1M1234 643.5h3M1240 643.5h3M1246 643.5h3M1252 643.5h1M774 644.5h2M941 644.5h2M776 645.5h1M940 645.5h1M935 647.5h2M934 648.5h1M780 649.5h1M781 650.5h1M929 650.5h2M782 651.5h1M928 651.5h1M924 653.5h1M922 654.5h2M786 655.5h1M786 656.5h1M787 657.5h1M917 658.5h2M916 659.5h1M790 661.5h1M791 662.5h1M792 663.5h1M911 663.5h2M910 664.5h1M795 667.5h1M795 668.5h1M906 668.5h1M796 669.5h1M905 669.5h1M904 670.5h1M799 673.5h1M800 674.5h1M900 674.5h1M801 675.5h1M900 675.5h1M899 676.5h1M803 679.5h1M803 680.5h1M896 680.5h1M804 681.5h1M895 681.5h1M895 682.5h1M806 685.5h1M807 686.5h1M891 686.5h1M808 687.5h1M891 687.5h1M890 688.5h1M811 691.5h1M812 692.5h1M886 692.5h1M813 693.5h1M885 693.5h1M885 694.5h1M816 697.5h1M817 698.5h1M881 698.5h1M818 699.5h1M880 699.5h1M879 700.5h1M821 703.5h1M822 704.5h1M876 704.5h1M823 705.5h1M875 705.5h1M874 706.5h1M826 709.5h1M827 710.5h1M870 710.5h1M828 711.5h1M869 711.5h1M868 712.5h1M832 714.5h1M833 715.5h1M834 716.5h1M863 716.5h2M862 717.5h1M838 718.5h1M839 719.5h2M858 719.5h1M856 720.5h2M844 721.5h3M851 721.5h2M850 722.5h1" fill="none" stroke="#ff0000" stroke-width="1"/>
</g>
<text x="-2" y="590" font-size="9.8" fill="#000" text-anchor="start" stroke="#000" stroke-width="0.3" textLength="146.1" lengthAdjust="spacingAndGlyphs">MACD(12,26,9) 0.002832 0.007278</text>
<g class="c" clip-path="url(#cr)">
<line x1="-1" y1="785.5" x2="1682" y2="785.5" stroke="#c0c0c0" stroke-width="1" stroke-dasharray="3 3"/>
<line x1="-1" y1="836.5" x2="1682" y2="836.5" stroke="#c0c0c0" stroke-width="1" stroke-dasharray="3 3"/>
<line x1="-1" y1="897.5" x2="1682" y2="897.5" stroke="#c0c0c0" stroke-width="1" stroke-dasharray="3 3"/>
<path d="M120 779.5h1M120 780.5h1M119 781.5h1M121 781.5h1M119 782.5h1M121 782.5h1M118 783.5h1M121 783.5h1M118 784.5h1M122 784.5h1M117 785.5h1M122 785.5h1M117 786.5h1M122 786.5h1M116 787.5h1M123 787.5h1M116 788.5h1M123 788.5h1M115 789.5h1M123 789.5h1M115 790.5h1M124 790.5h1M114 791.5h1M124 791.5h1M114 792.5h1M124 792.5h1M113 793.5h1M125 793.5h1M113 794.5h1M125 794.5h1M112 795.5h1M125 795.5h1M72 796.5h1M112 796.5h1M126 796.5h1M70 797.5h2M73 797.5h2M111 797.5h1M126 797.5h1M1333 797.5h5M69 798.5h1M75 798.5h2M110 798.5h1M126 798.5h1M1327 798.5h6M1338 798.5h2M67 799.5h2M77 799.5h1M109 799.5h1M127 799.5h1M1325 799.5h2M1340 799.5h2M65 800.5h2M78 800.5h2M93 800.5h4M108 800.5h1M127 800.5h1M1322 800.5h3M1342 800.5h2M64 801.5h1M80 801.5h13M97 801.5h2M108 801.5h1M127 801.5h1M1320 801.5h2M1344 801.5h9M63 802.5h1M99 802.5h2M107 802.5h1M128 802.5h1M133 802.5h4M1318 802.5h2M1352 802.5h1M63 803.5h1M101 803.5h1M106 803.5h1M128 803.5h5M137 803.5h1M1317 803.5h1M1353 803.5h1M62 804.5h1M102 804.5h2M105 804.5h1M137 804.5h1M1315 804.5h2M1353 804.5h1M62 805.5h1M104 805.5h1M138 805.5h1M1313 805.5h2M1353 805.5h1M61 806.5h1M139 806.5h1M1311 806.5h2M1354 806.5h1M60 807.5h1M140 807.5h1M1296 807.5h5M1307 807.5h4M1354 807.5h1M60 808.5h1M140 808.5h1M1295 808.5h1M1301 808.5h6M1354 808.5h1M59 809.5h1M141 809.5h1M1294 809.5h1M1355 809.5h1M58 810.5h1M142 810.5h1M1293 810.5h1M1355 810.5h1M58 811.5h1M143 811.5h1M1292 811.5h1M1355 811.5h1M57 812.5h1M143 812.5h1M1291 812.5h1M1356 812.5h1M57 813.5h1M144 813.5h1M1290 813.5h1M1356 813.5h1M56 814.5h1M144 814.5h1M248 814.5h9M1289 814.5h1M1357 814.5h1M55 815.5h1M145 815.5h1M247 815.5h1M257 815.5h1M1288 815.5h1M1357 815.5h1M54 816.5h1M145 816.5h1M247 816.5h1M257 816.5h1M1287 816.5h1M1357 816.5h1M53 817.5h1M146 817.5h1M246 817.5h1M258 817.5h1M464 817.5h2M960 817.5h1M1072 817.5h1M1287 817.5h1M1358 817.5h1M52 818.5h1M146 818.5h1M246 818.5h1M258 818.5h1M464 818.5h1M466 818.5h3M712 818.5h2M959 818.5h1M961 818.5h1M1071 818.5h1M1073 818.5h1M1286 818.5h1M1358 818.5h1M52 819.5h1M146 819.5h1M245 819.5h1M259 819.5h1M463 819.5h1M469 819.5h2M711 819.5h1M714 819.5h3M958 819.5h1M962 819.5h1M1071 819.5h1M1073 819.5h1M1286 819.5h1M1358 819.5h1M51 820.5h1M147 820.5h1M245 820.5h1M259 820.5h1M463 820.5h1M471 820.5h2M710 820.5h1M717 820.5h2M957 820.5h1M963 820.5h1M1070 820.5h1M1074 820.5h1M1285 820.5h1M1359 820.5h1M1384 820.5h1M50 821.5h1M147 821.5h1M244 821.5h1M260 821.5h1M462 821.5h1M472 821.5h1M709 821.5h1M719 821.5h2M955 821.5h2M964 821.5h1M1069 821.5h1M1075 821.5h1M1285 821.5h1M1359 821.5h1M1383 821.5h1M1385 821.5h1M16 822.5h2M32 822.5h1M49 822.5h1M148 822.5h1M244 822.5h1M260 822.5h1M462 822.5h1M473 822.5h1M708 822.5h1M720 822.5h1M954 822.5h1M964 822.5h1M1068 822.5h1M1075 822.5h1M1284 822.5h1M1359 822.5h1M1383 822.5h1M1386 822.5h1M15 823.5h1M18 823.5h2M30 823.5h2M33 823.5h2M48 823.5h1M148 823.5h1M243 823.5h1M261 823.5h1M461 823.5h1M473 823.5h1M707 823.5h1M721 823.5h1M953 823.5h1M965 823.5h1M1068 823.5h1M1076 823.5h1M1284 823.5h1M1360 823.5h1M1382 823.5h1M1387 823.5h2M15 824.5h1M20 824.5h2M28 824.5h2M35 824.5h2M46 824.5h2M148 824.5h1M243 824.5h1M261 824.5h1M400 824.5h2M461 824.5h1M473 824.5h1M706 824.5h1M721 824.5h1M952 824.5h1M966 824.5h1M1067 824.5h1M1077 824.5h1M1283 824.5h1M1360 824.5h1M1382 824.5h1M1389 824.5h1M14 825.5h1M22 825.5h2M26 825.5h2M37 825.5h1M44 825.5h2M149 825.5h1M242 825.5h1M262 825.5h1M399 825.5h1M402 825.5h2M460 825.5h1M473 825.5h1M705 825.5h1M722 825.5h1M950 825.5h2M967 825.5h1M1066 825.5h1M1077 825.5h1M1283 825.5h1M1361 825.5h1M1381 825.5h1M1390 825.5h1M0 826.5h1M13 826.5h1M24 826.5h2M38 826.5h2M42 826.5h2M149 826.5h1M242 826.5h1M262 826.5h1M399 826.5h1M404 826.5h2M460 826.5h1M474 826.5h1M704 826.5h1M722 826.5h1M948 826.5h2M968 826.5h2M1065 826.5h1M1078 826.5h1M1282 826.5h1M1361 826.5h1M1380 826.5h1M1391 826.5h1M1 827.5h1M13 827.5h1M40 827.5h2M150 827.5h1M241 827.5h1M263 827.5h1M288 827.5h1M398 827.5h1M406 827.5h2M459 827.5h1M474 827.5h1M703 827.5h1M722 827.5h1M946 827.5h2M970 827.5h3M1065 827.5h1M1079 827.5h1M1282 827.5h1M1362 827.5h1M1380 827.5h1M1392 827.5h2M2 828.5h1M12 828.5h1M150 828.5h1M241 828.5h1M263 828.5h1M287 828.5h1M289 828.5h1M398 828.5h1M408 828.5h1M459 828.5h1M474 828.5h1M702 828.5h1M723 828.5h1M936 828.5h10M973 828.5h2M1064 828.5h1M1079 828.5h1M1281 828.5h1M1363 828.5h1M1379 828.5h1M1394 828.5h2M3 829.5h1M11 829.5h1M150 829.5h1M239 829.5h2M264 829.5h1M286 829.5h1M290 829.5h1M397 829.5h1M409 829.5h2M458 829.5h1M475 829.5h1M701 829.5h1M723 829.5h1M848 829.5h5M934 829.5h2M975 829.5h19M1062 829.5h2M1080 829.5h2M1281 829.5h1M1364 829.5h1M1378 829.5h1M1396 829.5h2M4 830.5h1M11 830.5h1M151 830.5h1M224 830.5h5M235 830.5h4M265 830.5h1M286 830.5h1M291 830.5h2M397 830.5h1M411 830.5h1M458 830.5h1M475 830.5h1M700 830.5h1M723 830.5h1M847 830.5h1M853 830.5h5M932 830.5h2M994 830.5h2M1060 830.5h2M1082 830.5h3M1279 830.5h2M1364 830.5h1M1378 830.5h1M1398 830.5h2M5 831.5h1M10 831.5h1M151 831.5h1M223 831.5h1M229 831.5h6M266 831.5h1M285 831.5h1M293 831.5h1M396 831.5h1M412 831.5h1M457 831.5h1M475 831.5h1M699 831.5h1M724 831.5h1M847 831.5h1M858 831.5h2M930 831.5h2M996 831.5h2M1058 831.5h2M1085 831.5h2M1248 831.5h1M1275 831.5h4M1365 831.5h1M1377 831.5h1M1400 831.5h1M6 832.5h1M9 832.5h1M152 832.5h1M223 832.5h1M267 832.5h1M284 832.5h1M294 832.5h1M396 832.5h1M413 832.5h2M457 832.5h1M476 832.5h1M552 832.5h3M567 832.5h2M698 832.5h1M724 832.5h1M846 832.5h1M860 832.5h2M927 832.5h3M998 832.5h2M1053 832.5h5M1087 832.5h4M1248 832.5h2M1269 832.5h6M1366 832.5h1M1377 832.5h1M1401 832.5h1M7 833.5h1M9 833.5h1M152 833.5h2M222 833.5h1M268 833.5h1M283 833.5h1M295 833.5h1M395 833.5h1M415 833.5h1M456 833.5h1M476 833.5h1M551 833.5h1M555 833.5h4M563 833.5h4M569 833.5h1M697 833.5h1M725 833.5h1M846 833.5h1M862 833.5h2M869 833.5h8M885 833.5h4M925 833.5h2M1000 833.5h1M1048 833.5h5M1091 833.5h4M1247 833.5h1M1250 833.5h1M1264 833.5h5M1367 833.5h1M1375 833.5h2M1401 833.5h1M8 834.5h1M154 834.5h2M221 834.5h1M269 834.5h1M282 834.5h1M296 834.5h5M395 834.5h1M416 834.5h2M456 834.5h1M476 834.5h1M551 834.5h1M559 834.5h4M570 834.5h1M696 834.5h1M725 834.5h1M845 834.5h1M864 834.5h5M877 834.5h8M889 834.5h1M922 834.5h3M1001 834.5h1M1047 834.5h1M1095 834.5h10M1247 834.5h1M1251 834.5h1M1263 834.5h1M1367 834.5h1M1371 834.5h4M1402 834.5h1M156 835.5h2M220 835.5h1M270 835.5h1M282 835.5h1M301 835.5h5M394 835.5h1M418 835.5h2M455 835.5h1M476 835.5h1M550 835.5h1M571 835.5h2M632 835.5h1M695 835.5h1M725 835.5h1M845 835.5h1M890 835.5h1M920 835.5h2M1001 835.5h1M1045 835.5h2M1105 835.5h1M1246 835.5h1M1252 835.5h1M1261 835.5h2M1368 835.5h3M1402 835.5h1M158 836.5h2M220 836.5h1M271 836.5h1M281 836.5h1M306 836.5h2M360 836.5h1M394 836.5h1M420 836.5h2M454 836.5h1M477 836.5h1M550 836.5h1M573 836.5h1M631 836.5h1M633 836.5h1M694 836.5h1M726 836.5h1M844 836.5h1M891 836.5h2M919 836.5h1M1002 836.5h1M1044 836.5h1M1105 836.5h1M1133 836.5h4M1246 836.5h1M1253 836.5h1M1260 836.5h1M1403 836.5h1M160 837.5h1M219 837.5h1M272 837.5h9M308 837.5h2M359 837.5h1M361 837.5h1M393 837.5h1M422 837.5h2M454 837.5h1M477 837.5h1M549 837.5h1M574 837.5h1M631 837.5h1M633 837.5h1M694 837.5h1M726 837.5h1M844 837.5h1M893 837.5h1M918 837.5h1M1003 837.5h1M1043 837.5h1M1106 837.5h1M1128 837.5h5M1137 837.5h1M1245 837.5h1M1254 837.5h1M1259 837.5h1M1404 837.5h1M161 838.5h2M218 838.5h1M310 838.5h2M357 838.5h2M362 838.5h1M393 838.5h1M424 838.5h9M453 838.5h1M477 838.5h1M549 838.5h1M575 838.5h1M630 838.5h1M634 838.5h1M693 838.5h1M726 838.5h1M843 838.5h1M894 838.5h1M917 838.5h1M1003 838.5h1M1041 838.5h2M1106 838.5h1M1126 838.5h2M1138 838.5h1M1245 838.5h1M1255 838.5h1M1257 838.5h2M1404 838.5h1M163 839.5h1M217 839.5h1M312 839.5h5M356 839.5h1M363 839.5h1M392 839.5h1M433 839.5h2M452 839.5h1M478 839.5h1M548 839.5h1M576 839.5h5M629 839.5h1M635 839.5h1M692 839.5h1M727 839.5h1M843 839.5h1M895 839.5h1M915 839.5h2M1004 839.5h1M1037 839.5h4M1107 839.5h1M1124 839.5h2M1138 839.5h1M1244 839.5h1M1256 839.5h1M1405 839.5h1M164 840.5h1M217 840.5h1M317 840.5h5M355 840.5h1M364 840.5h1M391 840.5h1M435 840.5h1M451 840.5h1M478 840.5h1M547 840.5h1M581 840.5h4M608 840.5h2M629 840.5h1M635 840.5h1M691 840.5h1M727 840.5h1M842 840.5h1M896 840.5h2M914 840.5h1M1005 840.5h1M1023 840.5h14M1108 840.5h1M1122 840.5h2M1139 840.5h1M1244 840.5h1M1406 840.5h1M165 841.5h2M216 841.5h1M322 841.5h3M353 841.5h2M365 841.5h1M390 841.5h1M436 841.5h1M450 841.5h1M478 841.5h1M547 841.5h1M585 841.5h1M607 841.5h1M610 841.5h3M628 841.5h1M636 841.5h1M690 841.5h1M728 841.5h1M842 841.5h1M898 841.5h3M913 841.5h1M1005 841.5h1M1021 841.5h2M1108 841.5h1M1120 841.5h2M1140 841.5h1M1243 841.5h1M1406 841.5h1M167 842.5h1M214 842.5h2M325 842.5h2M351 842.5h2M366 842.5h1M389 842.5h1M437 842.5h2M450 842.5h1M479 842.5h1M488 842.5h2M546 842.5h1M586 842.5h1M607 842.5h1M613 842.5h2M627 842.5h1M637 842.5h1M690 842.5h1M728 842.5h1M841 842.5h1M901 842.5h2M909 842.5h4M1006 842.5h1M1018 842.5h3M1109 842.5h1M1119 842.5h1M1141 842.5h1M1243 842.5h1M1407 842.5h1M168 843.5h13M213 843.5h1M327 843.5h2M347 843.5h4M367 843.5h1M387 843.5h2M439 843.5h1M449 843.5h1M479 843.5h1M486 843.5h2M490 843.5h2M546 843.5h1M586 843.5h1M606 843.5h1M615 843.5h3M627 843.5h1M637 843.5h1M689 843.5h1M729 843.5h1M841 843.5h1M903 843.5h6M1007 843.5h1M1015 843.5h3M1110 843.5h1M1117 843.5h2M1142 843.5h1M1242 843.5h1M1407 843.5h1M181 844.5h4M211 844.5h2M329 844.5h1M344 844.5h3M368 844.5h3M386 844.5h1M440 844.5h9M479 844.5h1M485 844.5h1M492 844.5h2M545 844.5h1M587 844.5h1M606 844.5h1M618 844.5h2M626 844.5h1M638 844.5h1M688 844.5h1M730 844.5h1M840 844.5h1M1007 844.5h1M1011 844.5h4M1110 844.5h1M1116 844.5h1M1142 844.5h1M1200 844.5h3M1242 844.5h1M1408 844.5h1M185 845.5h1M209 845.5h2M330 845.5h1M343 845.5h1M371 845.5h4M385 845.5h1M479 845.5h1M483 845.5h2M494 845.5h2M545 845.5h1M588 845.5h1M605 845.5h1M620 845.5h2M625 845.5h1M639 845.5h1M687 845.5h1M731 845.5h1M840 845.5h1M1008 845.5h3M1111 845.5h1M1115 845.5h1M1143 845.5h1M1199 845.5h1M1203 845.5h4M1241 845.5h1M1409 845.5h2M186 846.5h1M208 846.5h1M331 846.5h2M341 846.5h2M375 846.5h10M480 846.5h3M496 846.5h1M536 846.5h9M589 846.5h1M605 846.5h1M622 846.5h2M625 846.5h1M639 846.5h1M686 846.5h1M732 846.5h1M839 846.5h1M1111 846.5h1M1113 846.5h2M1144 846.5h1M1198 846.5h1M1207 846.5h4M1241 846.5h1M1411 846.5h1M187 847.5h2M207 847.5h1M333 847.5h1M340 847.5h1M480 847.5h1M497 847.5h1M535 847.5h1M590 847.5h1M604 847.5h1M624 847.5h1M640 847.5h2M685 847.5h1M733 847.5h1M839 847.5h1M1112 847.5h1M1145 847.5h1M1197 847.5h1M1211 847.5h4M1240 847.5h1M1412 847.5h1M189 848.5h1M205 848.5h2M334 848.5h1M339 848.5h1M498 848.5h1M534 848.5h1M590 848.5h1M604 848.5h1M642 848.5h3M684 848.5h1M734 848.5h1M838 848.5h1M1146 848.5h1M1195 848.5h2M1215 848.5h2M1239 848.5h2M1413 848.5h2M190 849.5h1M204 849.5h1M335 849.5h1M337 849.5h2M499 849.5h2M533 849.5h1M591 849.5h1M603 849.5h1M645 849.5h2M683 849.5h1M735 849.5h1M838 849.5h1M1147 849.5h2M1194 849.5h1M1217 849.5h2M1237 849.5h2M1415 849.5h1M191 850.5h1M203 850.5h1M336 850.5h1M501 850.5h1M531 850.5h2M592 850.5h1M603 850.5h1M647 850.5h2M682 850.5h1M736 850.5h1M837 850.5h1M1149 850.5h1M1193 850.5h1M1219 850.5h2M1234 850.5h3M1416 850.5h1M192 851.5h5M201 851.5h2M502 851.5h1M530 851.5h1M593 851.5h2M602 851.5h1M649 851.5h1M681 851.5h1M736 851.5h1M837 851.5h1M1150 851.5h1M1192 851.5h1M1221 851.5h1M1231 851.5h3M197 852.5h4M503 852.5h1M529 852.5h1M595 852.5h2M602 852.5h1M650 852.5h1M680 852.5h1M737 852.5h1M837 852.5h1M1151 852.5h1M1192 852.5h1M1222 852.5h2M1227 852.5h4M504 853.5h1M528 853.5h1M597 853.5h1M601 853.5h1M650 853.5h1M679 853.5h1M737 853.5h1M836 853.5h1M1152 853.5h3M1191 853.5h1M1224 853.5h3M505 854.5h2M526 854.5h2M598 854.5h2M601 854.5h1M651 854.5h1M678 854.5h1M738 854.5h1M836 854.5h1M1155 854.5h4M1191 854.5h1M507 855.5h2M524 855.5h2M600 855.5h1M652 855.5h1M677 855.5h1M738 855.5h1M835 855.5h1M1159 855.5h10M1190 855.5h1M509 856.5h1M522 856.5h2M653 856.5h1M676 856.5h1M739 856.5h1M835 856.5h1M1169 856.5h1M1190 856.5h1M510 857.5h2M517 857.5h5M654 857.5h1M663 857.5h3M676 857.5h1M739 857.5h1M835 857.5h1M1169 857.5h1M1189 857.5h1M512 858.5h5M654 858.5h1M661 858.5h2M666 858.5h2M675 858.5h1M740 858.5h1M834 858.5h1M1170 858.5h1M1189 858.5h1M655 859.5h1M658 859.5h3M668 859.5h2M674 859.5h1M740 859.5h1M834 859.5h1M1171 859.5h1M1188 859.5h1M656 860.5h2M670 860.5h2M673 860.5h1M741 860.5h1M833 860.5h1M1172 860.5h1M1188 860.5h1M672 861.5h1M741 861.5h1M833 861.5h1M1172 861.5h1M1187 861.5h1M742 862.5h1M832 862.5h1M1173 862.5h1M1187 862.5h1M742 863.5h1M832 863.5h1M1174 863.5h1M1186 863.5h1M743 864.5h1M830 864.5h2M1175 864.5h1M1186 864.5h1M743 865.5h1M829 865.5h1M1175 865.5h1M1185 865.5h1M744 866.5h1M827 866.5h2M1176 866.5h3M1185 866.5h1M744 867.5h1M825 867.5h2M1179 867.5h4M1184 867.5h1M745 868.5h1M824 868.5h1M1183 868.5h2M745 869.5h1M760 869.5h1M823 869.5h1M746 870.5h1M759 870.5h1M761 870.5h2M823 870.5h1M747 871.5h1M758 871.5h1M763 871.5h1M822 871.5h1M747 872.5h1M758 872.5h1M764 872.5h1M822 872.5h1M748 873.5h1M757 873.5h1M765 873.5h2M821 873.5h1M749 874.5h1M756 874.5h1M767 874.5h1M821 874.5h1M749 875.5h1M755 875.5h1M768 875.5h1M820 875.5h1M750 876.5h1M754 876.5h1M769 876.5h2M820 876.5h1M751 877.5h1M754 877.5h1M771 877.5h2M819 877.5h1M751 878.5h1M753 878.5h1M773 878.5h1M819 878.5h1M752 879.5h1M774 879.5h2M818 879.5h1M776 880.5h1M818 880.5h1M777 881.5h1M817 881.5h1M777 882.5h1M817 882.5h1M778 883.5h1M816 883.5h1M779 884.5h1M808 884.5h9M779 885.5h1M806 885.5h2M780 886.5h1M804 886.5h2M781 887.5h1M802 887.5h2M781 888.5h1M800 888.5h2M782 889.5h1M799 889.5h1M783 890.5h1M798 890.5h1M783 891.5h1M797 891.5h1M784 892.5h2M795 892.5h2M786 893.5h3M794 893.5h1M789 894.5h2M793 894.5h1M791 895.5h2" fill="none" stroke="#1e90ff" stroke-width="1"/>
</g>
<text x="-2" y="761.8" font-size="9.8" fill="#000" text-anchor="start" stroke="#000" stroke-width="0.3" textLength="66.4" lengthAdjust="spacingAndGlyphs">RSI(14) 41.6267</text>
<g class="c">
<rect x="0" y="22" width="1684" height="1" fill="#000" />
<rect x="0" y="575" width="1684" height="1" fill="#000" />
<rect x="0" y="577" width="1684" height="1" fill="#000" />
<rect x="0" y="747" width="1684" height="1" fill="#000" />
<rect x="0" y="749" width="1684" height="1" fill="#000" />
<rect x="0" y="923" width="1684" height="1" fill="#000" />
<rect x="1683" y="22" width="1" height="554" fill="#000" />
<rect x="1683" y="577" width="1" height="171" fill="#000" />
<rect x="1683" y="749" width="1" height="175" fill="#000" />
<rect x="1729" y="20" width="1" height="920" fill="#d0d0d0" />
<rect x="1684" y="44" width="2" height="1" fill="#000" />
<rect x="1684" y="77" width="2" height="1" fill="#000" />
<rect x="1684" y="110" width="2" height="1" fill="#000" />
<rect x="1684" y="143" width="2" height="1" fill="#000" />
<rect x="1684" y="176" width="2" height="1" fill="#000" />
<rect x="1684" y="209" width="2" height="1" fill="#000" />
<rect x="1684" y="242" width="2" height="1" fill="#000" />
<rect x="1684" y="275" width="2" height="1" fill="#000" />
<rect x="1684" y="308" width="2" height="1" fill="#000" />
<rect x="1684" y="341" width="2" height="1" fill="#000" />
<rect x="1684" y="374" width="2" height="1" fill="#000" />
<rect x="1684" y="407" width="2" height="1" fill="#000" />
<rect x="1684" y="440" width="2" height="1" fill="#000" />
<rect x="1684" y="473" width="2" height="1" fill="#000" />
<rect x="1684" y="506" width="2" height="1" fill="#000" />
<rect x="1684" y="539" width="2" height="1" fill="#000" />
<rect x="1684" y="572" width="2" height="1" fill="#000" />
<rect x="1684" y="626" width="2" height="1" fill="#000" />
<rect x="1684" y="579" width="1" height="1" fill="#000" />
<rect x="1684" y="922" width="1" height="1" fill="#000" />
<rect x="56" y="924" width="1" height="3" fill="#000" />
<rect x="120" y="924" width="1" height="3" fill="#000" />
<rect x="184" y="924" width="1" height="3" fill="#000" />
<rect x="248" y="924" width="1" height="3" fill="#000" />
<rect x="312" y="924" width="1" height="3" fill="#000" />
<rect x="376" y="924" width="1" height="3" fill="#000" />
<rect x="440" y="924" width="1" height="3" fill="#000" />
<rect x="504" y="924" width="1" height="3" fill="#000" />
<rect x="568" y="924" width="1" height="3" fill="#000" />
<rect x="632" y="924" width="1" height="3" fill="#000" />
<rect x="696" y="924" width="1" height="3" fill="#000" />
<rect x="760" y="924" width="1" height="3" fill="#000" />
<rect x="824" y="924" width="1" height="3" fill="#000" />
<rect x="888" y="924" width="1" height="3" fill="#000" />
<rect x="952" y="924" width="1" height="3" fill="#000" />
<rect x="1016" y="924" width="1" height="3" fill="#000" />
<rect x="1080" y="924" width="1" height="3" fill="#000" />
<rect x="1144" y="924" width="1" height="3" fill="#000" />
<rect x="1208" y="924" width="1" height="3" fill="#000" />
<rect x="1272" y="924" width="1" height="3" fill="#000" />
<rect x="1336" y="924" width="1" height="3" fill="#000" />
<rect x="1400" y="924" width="1" height="3" fill="#000" />
</g>
<text x="1689.5" y="48.0" font-size="9.8" fill="#000" text-anchor="start" stroke="#000" stroke-width="0.3" textLength="32.5" lengthAdjust="spacingAndGlyphs">1.35280</text>
<text x="1689.5" y="81.0" font-size="9.8" fill="#000" text-anchor="start" stroke="#000" stroke-width="0.3" textLength="32.5" lengthAdjust="spacingAndGlyphs">1.33920</text>
<text x="1689.5" y="114.0" font-size="9.8" fill="#000" text-anchor="start" stroke="#000" stroke-width="0.3" textLength="32.5" lengthAdjust="spacingAndGlyphs">1.32560</text>
<text x="1689.5" y="147.0" font-size="9.8" fill="#000" text-anchor="start" stroke="#000" stroke-width="0.3" textLength="32.5" lengthAdjust="spacingAndGlyphs">1.31240</text>
<text x="1689.5" y="180.0" font-size="9.8" fill="#000" text-anchor="start" stroke="#000" stroke-width="0.3" textLength="32.5" lengthAdjust="spacingAndGlyphs">1.29880</text>
<text x="1689.5" y="213.0" font-size="9.8" fill="#000" text-anchor="start" stroke="#000" stroke-width="0.3" textLength="32.5" lengthAdjust="spacingAndGlyphs">1.28520</text>
<text x="1689.5" y="246.0" font-size="9.8" fill="#000" text-anchor="start" stroke="#000" stroke-width="0.3" textLength="32.5" lengthAdjust="spacingAndGlyphs">1.27160</text>
<text x="1689.5" y="279.0" font-size="9.8" fill="#000" text-anchor="start" stroke="#000" stroke-width="0.3" textLength="32.5" lengthAdjust="spacingAndGlyphs">1.25840</text>
<text x="1689.5" y="312.0" font-size="9.8" fill="#000" text-anchor="start" stroke="#000" stroke-width="0.3" textLength="32.5" lengthAdjust="spacingAndGlyphs">1.24480</text>
<text x="1689.5" y="345.0" font-size="9.8" fill="#000" text-anchor="start" stroke="#000" stroke-width="0.3" textLength="32.5" lengthAdjust="spacingAndGlyphs">1.23120</text>
<text x="1689.5" y="378.0" font-size="9.8" fill="#000" text-anchor="start" stroke="#000" stroke-width="0.3" textLength="32.5" lengthAdjust="spacingAndGlyphs">1.21760</text>
<text x="1689.5" y="411.0" font-size="9.8" fill="#000" text-anchor="start" stroke="#000" stroke-width="0.3" textLength="32.5" lengthAdjust="spacingAndGlyphs">1.20400</text>
<text x="1689.5" y="444.0" font-size="9.8" fill="#000" text-anchor="start" stroke="#000" stroke-width="0.3" textLength="32.5" lengthAdjust="spacingAndGlyphs">1.19080</text>
<text x="1689.5" y="477.0" font-size="9.8" fill="#000" text-anchor="start" stroke="#000" stroke-width="0.3" textLength="32.5" lengthAdjust="spacingAndGlyphs">1.17720</text>
<text x="1689.5" y="510.0" font-size="9.8" fill="#000" text-anchor="start" stroke="#000" stroke-width="0.3" textLength="32.5" lengthAdjust="spacingAndGlyphs">1.16360</text>
<text x="1689.5" y="543.0" font-size="9.8" fill="#000" text-anchor="start" stroke="#000" stroke-width="0.3" textLength="32.5" lengthAdjust="spacingAndGlyphs">1.15000</text>
<text x="1689.5" y="576.0" font-size="9.8" fill="#000" text-anchor="start" stroke="#000" stroke-width="0.3" textLength="32.5" lengthAdjust="spacingAndGlyphs">1.13680</text>
<g class="c">
<rect x="1685" y="261" width="41" height="11" fill="#ff4500" />
<rect x="1678" y="265" width="5" height="5" fill="#ff4500" />
<rect x="1679" y="266" width="3" height="3" fill="#fff" />
<rect x="1685" y="283" width="41" height="11" fill="#ff0000" />
<rect x="1678" y="287" width="5" height="5" fill="#ff0000" />
<rect x="1679" y="288" width="3" height="3" fill="#fff" />
<rect x="1685" y="306" width="41" height="11" fill="#32cd32" />
<rect x="1678" y="310" width="5" height="5" fill="#32cd32" />
<rect x="1679" y="311" width="3" height="3" fill="#fff" />
<rect x="1685" y="326" width="41" height="11" fill="#000000" />
<rect x="1685" y="350" width="41" height="11" fill="#0000ff" />
<rect x="1678" y="354" width="5" height="5" fill="#0000ff" />
<rect x="1679" y="355" width="3" height="3" fill="#fff" />
<rect x="1685" y="380" width="41" height="11" fill="#0000ff" />
<rect x="1678" y="384" width="5" height="5" fill="#0000ff" />
<rect x="1679" y="385" width="3" height="3" fill="#fff" />
</g>
<text x="1689.5" y="270.2" font-size="9.8" fill="#fff" text-anchor="start" textLength="32.5" lengthAdjust="spacingAndGlyphs">1.26148</text>
<text x="1689.5" y="292.2" font-size="9.8" fill="#fff" text-anchor="start" textLength="32.5" lengthAdjust="spacingAndGlyphs">1.25249</text>
<text x="1689.5" y="315.2" font-size="9.8" fill="#fff" text-anchor="start" textLength="32.5" lengthAdjust="spacingAndGlyphs">1.24309</text>
<text x="1689.5" y="335.2" font-size="9.8" fill="#fff" text-anchor="start" textLength="32.5" lengthAdjust="spacingAndGlyphs">1.23536</text>
<text x="1689.5" y="359.2" font-size="9.8" fill="#fff" text-anchor="start" textLength="32.5" lengthAdjust="spacingAndGlyphs">1.22510</text>
<text x="1689.5" y="389.2" font-size="9.8" fill="#fff" text-anchor="start" textLength="32.5" lengthAdjust="spacingAndGlyphs">1.21284</text>
<text x="1687" y="587.6" font-size="9.8" fill="#000" text-anchor="start" stroke="#000" stroke-width="0.3" textLength="27.5" lengthAdjust="spacingAndGlyphs">0.0148</text>
<text x="1687" y="628.6" font-size="9.8" fill="#000" text-anchor="start" stroke="#000" stroke-width="0.3" textLength="17.5" lengthAdjust="spacingAndGlyphs">0.00</text>
<text x="1687" y="743.6" font-size="9.8" fill="#000" text-anchor="start" stroke="#000" stroke-width="0.3" textLength="40.5" lengthAdjust="spacingAndGlyphs">-0.038415</text>
<text x="1687" y="760" font-size="9.8" fill="#000" text-anchor="start" stroke="#000" stroke-width="0.3" textLength="15.0" lengthAdjust="spacingAndGlyphs">100</text>
<text x="1686" y="789" font-size="9.8" fill="#000" text-anchor="start" stroke="#000" stroke-width="0.3" textLength="10.0" lengthAdjust="spacingAndGlyphs">80</text>
<text x="1686" y="840" font-size="9.8" fill="#000" text-anchor="start" stroke="#000" stroke-width="0.3" textLength="10.0" lengthAdjust="spacingAndGlyphs">50</text>
<text x="1686" y="901" font-size="9.8" fill="#000" text-anchor="start" stroke="#000" stroke-width="0.3" textLength="10.0" lengthAdjust="spacingAndGlyphs">15</text>
<text x="1687" y="920" font-size="9.8" fill="#000" text-anchor="start" stroke="#000" stroke-width="0.3" textLength="5.0" lengthAdjust="spacingAndGlyphs">0</text>
<text x="-9" y="936" font-size="9.8" fill="#000" text-anchor="start" stroke="#000" stroke-width="0.3" textLength="53.9" lengthAdjust="spacingAndGlyphs">24 Nov 2019</text>
<text x="55" y="936" font-size="9.8" fill="#000" text-anchor="start" stroke="#000" stroke-width="0.3" textLength="46.4" lengthAdjust="spacingAndGlyphs">3 Dec 2019</text>
<text x="119" y="936" font-size="9.8" fill="#000" text-anchor="start" stroke="#000" stroke-width="0.3" textLength="51.5" lengthAdjust="spacingAndGlyphs">12 Dec 2019</text>
<text x="183" y="936" font-size="9.8" fill="#000" text-anchor="start" stroke="#000" stroke-width="0.3" textLength="51.5" lengthAdjust="spacingAndGlyphs">22 Dec 2019</text>
<text x="247" y="936" font-size="9.8" fill="#000" text-anchor="start" stroke="#000" stroke-width="0.3" textLength="51.5" lengthAdjust="spacingAndGlyphs">31 Dec 2019</text>
<text x="311" y="936" font-size="9.8" fill="#000" text-anchor="start" stroke="#000" stroke-width="0.3" textLength="44.4" lengthAdjust="spacingAndGlyphs">9 Jan 2020</text>
<text x="375" y="936" font-size="9.8" fill="#000" text-anchor="start" stroke="#000" stroke-width="0.3" textLength="49.4" lengthAdjust="spacingAndGlyphs">19 Jan 2020</text>
<text x="439" y="936" font-size="9.8" fill="#000" text-anchor="start" stroke="#000" stroke-width="0.3" textLength="49.4" lengthAdjust="spacingAndGlyphs">28 Jan 2020</text>
<text x="503" y="936" font-size="9.8" fill="#000" text-anchor="start" stroke="#000" stroke-width="0.3" textLength="46.4" lengthAdjust="spacingAndGlyphs">6 Feb 2020</text>
<text x="567" y="936" font-size="9.8" fill="#000" text-anchor="start" stroke="#000" stroke-width="0.3" textLength="51.5" lengthAdjust="spacingAndGlyphs">16 Feb 2020</text>
<text x="631" y="936" font-size="9.8" fill="#000" text-anchor="start" stroke="#000" stroke-width="0.3" textLength="51.5" lengthAdjust="spacingAndGlyphs">25 Feb 2020</text>
<text x="695" y="936" font-size="9.8" fill="#000" text-anchor="start" stroke="#000" stroke-width="0.3" textLength="45.9" lengthAdjust="spacingAndGlyphs">5 Mar 2020</text>
<text x="759" y="936" font-size="9.8" fill="#000" text-anchor="start" stroke="#000" stroke-width="0.3" textLength="51.0" lengthAdjust="spacingAndGlyphs">15 Mar 2020</text>
<text x="823" y="936" font-size="9.8" fill="#000" text-anchor="start" stroke="#000" stroke-width="0.3" textLength="51.0" lengthAdjust="spacingAndGlyphs">24 Mar 2020</text>
<text x="887" y="936" font-size="9.8" fill="#000" text-anchor="start" stroke="#000" stroke-width="0.3" textLength="45.3" lengthAdjust="spacingAndGlyphs">2 Apr 2020</text>
<text x="951" y="936" font-size="9.8" fill="#000" text-anchor="start" stroke="#000" stroke-width="0.3" textLength="50.5" lengthAdjust="spacingAndGlyphs">13 Apr 2020</text>
<text x="1015" y="936" font-size="9.8" fill="#000" text-anchor="start" stroke="#000" stroke-width="0.3" textLength="50.5" lengthAdjust="spacingAndGlyphs">22 Apr 2020</text>
<text x="1079" y="936" font-size="9.8" fill="#000" text-anchor="start" stroke="#000" stroke-width="0.3" textLength="49.5" lengthAdjust="spacingAndGlyphs">1 May 2020</text>
<text x="1143" y="936" font-size="9.8" fill="#000" text-anchor="start" stroke="#000" stroke-width="0.3" textLength="54.0" lengthAdjust="spacingAndGlyphs">11 May 2020</text>
<text x="1207" y="936" font-size="9.8" fill="#000" text-anchor="start" stroke="#000" stroke-width="0.3" textLength="54.7" lengthAdjust="spacingAndGlyphs">20 May 2020</text>
<text x="1271" y="936" font-size="9.8" fill="#000" text-anchor="start" stroke="#000" stroke-width="0.3" textLength="54.7" lengthAdjust="spacingAndGlyphs">29 May 2020</text>
<text x="1335" y="936" font-size="9.8" fill="#000" text-anchor="start" stroke="#000" stroke-width="0.3" textLength="44.6" lengthAdjust="spacingAndGlyphs">8 Jun 2020</text>
<text x="1399" y="936" font-size="9.8" fill="#000" text-anchor="start" stroke="#000" stroke-width="0.3" textLength="49.6" lengthAdjust="spacingAndGlyphs">17 Jun 2020</text>
<g>
<rect x="0" y="40" width="216" height="68" fill="#fff" class="c"/>
<rect x="0" y="42" width="46.5" height="24" fill="url(#gs)" class="c"/>
<rect x="0" y="42" width="47" height="1" fill="#c40000" class="c"/>
<rect x="46" y="42" width="1" height="24" fill="#c40000" class="c"/>
<rect x="0" y="65" width="43" height="1" fill="#b00000" class="c"/>
<rect x="0" y="66" width="43" height="1" fill="#ec5a5a" class="c"/>
<rect x="162" y="42" width="52" height="24" fill="url(#gs)" class="c"/>
<rect x="162" y="42" width="52" height="1" fill="#c40000" class="c"/>
<rect x="162" y="42" width="1" height="24" fill="#c40000" class="c"/>
<rect x="213" y="42" width="1" height="24" fill="#c40000" class="c"/>
<rect x="166" y="65" width="44" height="1" fill="#b00000" class="c"/>
<rect x="0" y="66" width="104" height="40" fill="url(#gb)" class="c"/>
<rect x="106" y="66" width="108" height="40" fill="url(#gb)" class="c"/>
<rect x="0" y="105" width="104" height="1" fill="#a00000" class="c"/>
<rect x="106" y="105" width="108" height="1" fill="#a00000" class="c"/>
<rect x="0" y="66" width="43" height="1" fill="#ec5a5a" class="c"/>
<rect x="166" y="66" width="44" height="1" fill="#ec5a5a" class="c"/>
<rect x="49.5" y="42.5" width="110" height="21" fill="#fff" stroke="#a0a4b0" stroke-width="1" class="c"/>
<rect x="51" y="44" width="19" height="18" fill="url(#gg)" class="c"/>
<rect x="70" y="43" width="1" height="20" fill="#a0a4b0" class="c"/>
<rect x="139" y="44" width="20" height="18" fill="url(#gg)" class="c"/>
<rect x="138" y="43" width="1" height="20" fill="#a0a4b0" class="c"/>
<polygon points="57,51 63,51 60,54.5" fill="#4a5ec8"/>
<polygon points="145.5,54.5 151.5,54.5 148.5,51" fill="#4a5ec8"/>
<text x="111.6" y="56.8" font-size="12.6" fill="#000" text-anchor="start" textLength="23.5" lengthAdjust="spacingAndGlyphs">1.00</text>
<text x="7" y="58" font-size="12.5" fill="#fff" text-anchor="start" textLength="27" lengthAdjust="spacingAndGlyphs">SELL</text>
<text x="175" y="58" font-size="12.5" fill="#fff" text-anchor="start" textLength="24" lengthAdjust="spacingAndGlyphs">BUY</text>
<text x="15" y="97" font-size="12.8" fill="#fff" text-anchor="start" font-weight="bold" stroke="#fff" stroke-width="0.35" textLength="23.2" lengthAdjust="spacingAndGlyphs">1.23</text>
<text x="43.5" y="97.2" font-size="35" fill="#fff" text-anchor="start" textLength="33" lengthAdjust="spacingAndGlyphs">53</text>
<text x="81.8" y="81" font-size="12.6" fill="#fff" text-anchor="start" font-weight="bold">6</text>
<text x="125" y="97" font-size="12.8" fill="#fff" text-anchor="start" font-weight="bold" stroke="#fff" stroke-width="0.35" textLength="23.2" lengthAdjust="spacingAndGlyphs">1.23</text>
<text x="154.3" y="97.2" font-size="35" fill="#fff" text-anchor="start" textLength="33" lengthAdjust="spacingAndGlyphs">55</text>
<text x="192.8" y="81" font-size="12.6" fill="#fff" text-anchor="start" font-weight="bold">8</text>
</g>
<g>
<rect x="0" y="0" width="1730" height="18" fill="#f0f0f0" class="c"/>
<rect x="0" y="17" width="1730" height="1" fill="#f4f4f4" class="c"/>
<rect x="0" y="18" width="1730" height="1" fill="#a0a0a0" class="c"/>
<rect x="0" y="19" width="1730" height="1" fill="#696969" class="c"/>
<rect x="0" y="20" width="1730" height="2" fill="#fff" class="c"/>
<rect x="1729" y="19" width="1" height="3" fill="#d0d0d0" class="c"/>
</g>
<defs><pattern id="chk" width="2" height="2" patternUnits="userSpaceOnUse"><rect width="2" height="2" fill="#f0f0f0"/><rect width="1" height="1" fill="#fff"/><rect x="1" y="1" width="1" height="1" fill="#fff"/></pattern><linearGradient id="gold" x1="0" y1="0" x2="1" y2="1"><stop offset="0" stop-color="#f8d848"/><stop offset="1" stop-color="#c08810"/></linearGradient><linearGradient id="plus" x1="0" y1="0" x2="0" y2="1"><stop offset="0" stop-color="#50e850"/><stop offset="1" stop-color="#10a810"/></linearGradient><radialGradient id="lens"><stop offset="0" stop-color="#e8f6ff"/><stop offset="1" stop-color="#b8dcf8"/></radialGradient></defs>
<rect x="-8" y="-4" width="14.5" height="16.5" fill="#fff" stroke="#4c82d4" stroke-width="1"/>
<rect x="0" y="1" width="5" height="1" fill="#bcd0f4" class="c"/>
<rect x="0" y="3" width="5" height="1" fill="#bcd0f4" class="c"/>
<rect x="0" y="5" width="5" height="1" fill="#bcd0f4" class="c"/>
<rect x="0" y="7" width="5" height="1" fill="#bcd0f4" class="c"/>
<path d="M19.5,-2h11.5v13.5h-11.5z" fill="#fafafa" stroke="#b4a894" stroke-width="1"/>
<line x1="31.5" y1="10.8" x2="36.5" y2="15.2" stroke="#c49c1c" stroke-width="2.4"/>
<circle cx="27.3" cy="6.6" r="5" fill="#d4e6f6" fill-opacity="0.9" stroke="#6c9ce0" stroke-width="1.1"/>
<rect x="26" y="3.5" width="2.5" height="5" fill="#a8bccc"/>
<rect x="44" y="0" width="1" height="16" fill="#a0a0a0" class="c"/>
<path d="M54.5,-2h8l3,3v9.5a1,1 0 0 1 -1,1h-9a1,1 0 0 1 -1,-1z" fill="#fff" stroke="#8a8a8a" stroke-width="1"/>
<rect x="56.5" y="2" width="6" height="1" fill="#b0b0b0" />
<rect x="56.5" y="4.5" width="6" height="1" fill="#b0b0b0" />
<rect x="56.5" y="7" width="6" height="1" fill="#b0b0b0" />
<path d="M62.199999999999996,4.2h3.8v3.9h3.9v3.8h-3.9v3.9h-3.8v-3.9h-3.9v-3.8h3.9z" fill="url(#plus)" stroke="#0c8c0c" stroke-width="0.9"/>
<text x="72.5" y="8.8" font-size="12.2" fill="#000" text-anchor="start" textLength="36.5" lengthAdjust="spacing" font-weight="500">新订单</text>
<path d="M127.5,-1.5 L137,6.2 L129.6,13.6 L121,7.4 Z" fill="url(#gold)" stroke="#a8700c" stroke-width="1" stroke-linejoin="round"/>
<path d="M122.5,8.6 L129.8,12 L136.2,7.6" fill="none" stroke="#fff0a0" stroke-width="0.9"/>
<rect x="150.8" y="-2" width="11.4" height="10" fill="#1c94f4"/>
<rect x="154" y="1.8" width="7" height="1.6" fill="#d8ecff"/>
<rect x="153" y="-2" width="1" height="10" fill="#d8ecff"/>
<path d="M152,13.3 a3,3 0 0 1 -0.6,-5.9 a3.6,3.6 0 0 1 6.4,-1.2 a3.4,3.4 0 0 1 5.2,2.2 a2.6,2.6 0 0 1 -0.8,4.9 z" fill="#e6ecf6" stroke="#5674b4" stroke-width="1"/>
<circle cx="185" cy="6" r="7.3" fill="#e4ecf4" fill-opacity="0.7"/>
<path d="M185,6 L185,13.6 A7.6,7.6 0 0 0 192.6,6 A7.6,7.6 0 0 0 188,-1 Z" fill="#8cc48c" fill-opacity="0.75"/>
<path d="M183.4,8.8 A3.2,3.2 0 0 1 184.0,3.0" fill="none" stroke="#4c78d8" stroke-width="1"/>
<path d="M182.3,10.7 A5.4,5.4 0 0 1 183.4,0.9" fill="none" stroke="#4c78d8" stroke-width="1"/>
<path d="M181.3,12.4 A7.4,7.4 0 0 1 182.8,-1.0" fill="none" stroke="#4c78d8" stroke-width="1"/>
<circle cx="185" cy="6" r="1.6" fill="#2c5cd0"/>
<rect x="184.6" y="6.5" width="1.4" height="7.3" fill="#18a818"/>
<path d="M204.6,5.5 L219.6,5.5 L214,13.4 L210.5,13.4 Z" fill="#f4d440" stroke="#c8a020" stroke-width="0.8"/>
<ellipse cx="212" cy="2.6" rx="7.8" ry="3.4" fill="#3c9cdc"/>
<ellipse cx="211.5" cy="0.4" rx="4.6" ry="2.6" fill="#58b4ec"/>
<circle cx="216.2" cy="9.7" r="4" fill="#e01c0c"/>
<rect x="214.7" y="8.2" width="3" height="3" fill="#fff"/>
<text x="226" y="8.8" font-size="12.2" fill="#000" text-anchor="start" textLength="47" lengthAdjust="spacing" font-weight="500">自动交易</text>
<rect x="280" y="0" width="1" height="18" fill="#a0a0a0" class="c"/>
<rect x="281" y="0" width="1" height="18" fill="#fbfbfb" class="c"/>
<rect x="284" y="0" width="3" height="1" fill="#b4b4b4" class="c"/>
<rect x="284" y="2" width="3" height="1" fill="#b4b4b4" class="c"/>
<rect x="284" y="4" width="3" height="1" fill="#b4b4b4" class="c"/>
<rect x="284" y="6" width="3" height="1" fill="#b4b4b4" class="c"/>
<rect x="284" y="8" width="3" height="1" fill="#b4b4b4" class="c"/>
<rect x="284" y="10" width="3" height="1" fill="#b4b4b4" class="c"/>
<rect x="284" y="12" width="3" height="1" fill="#b4b4b4" class="c"/>
<rect x="284" y="14" width="3" height="1" fill="#b4b4b4" class="c"/>
<rect x="298" y="0" width="1" height="14" fill="#585858" class="c"/>
<rect x="297" y="1" width="3" height="1" fill="#585858" class="c"/>
<rect x="296" y="11" width="14" height="1" fill="#585858" class="c"/>
<polygon points="308,9.5 311,11.5 308,13.5" fill="#585858"/>
<path d="M304.5,1.5V9.8M304.5,2.5H307.5M301.8,8.5H304.5" fill="none" stroke="#10a010" stroke-width="1.3"/>
<rect x="318" y="0" width="1" height="16" fill="#a0a0a0" class="c"/>
<rect x="319" y="0" width="24" height="16" fill="url(#chk)" class="c"/>
<rect x="318" y="16" width="26" height="1" fill="#fff" class="c"/>
<rect x="326" y="0" width="1" height="14" fill="#585858" class="c"/>
<rect x="325" y="1" width="3" height="1" fill="#585858" class="c"/>
<rect x="324" y="11" width="14" height="1" fill="#585858" class="c"/>
<polygon points="336,9.5 339,11.5 336,13.5" fill="#585858"/>
<rect x="332" y="7" width="1" height="3" fill="#108010" class="c"/>
<rect x="330.5" y="-1.5" width="4" height="9.2" fill="#38dc38" stroke="#109010" stroke-width="1"/>
<rect x="354" y="0" width="1" height="14" fill="#585858" class="c"/>
<rect x="353" y="1" width="3" height="1" fill="#585858" class="c"/>
<rect x="352" y="11" width="14" height="1" fill="#585858" class="c"/>
<polygon points="364,9.5 367,11.5 364,13.5" fill="#585858"/>
<path d="M353.2,8.6 C355.5,7 357,3.2 359.5,3.2 C361.5,3.2 362.5,6 364.8,7" fill="none" stroke="#18a018" stroke-width="1.3"/>
<rect x="375" y="0" width="1" height="16" fill="#a0a0a0" class="c"/>
<line x1="394" y1="7.9" x2="399.5" y2="13.200000000000001" stroke="#a88410" stroke-width="3.6"/>
<line x1="394.3" y1="8.2" x2="399" y2="12.700000000000001" stroke="#ecd040" stroke-width="2"/>
<circle cx="390" cy="3.9" r="5.4" fill="url(#lens)" stroke="#3c86d8" stroke-width="1.4"/>
<rect x="386.7" y="3.0" width="6.6" height="1.8" fill="#3c82b8"/>
<rect x="389.1" y="0.6000000000000001" width="1.8" height="6.6" fill="#3c82b8"/>
<line x1="422" y1="7.9" x2="427.5" y2="13.200000000000001" stroke="#a88410" stroke-width="3.6"/>
<line x1="422.3" y1="8.2" x2="427" y2="12.700000000000001" stroke="#ecd040" stroke-width="2"/>
<circle cx="418" cy="3.9" r="5.4" fill="url(#lens)" stroke="#3c86d8" stroke-width="1.4"/>
<rect x="414.7" y="3.0" width="6.6" height="1.8" fill="#3c82b8"/>
<rect x="440" y="-1" width="8" height="7.2" rx="0.8" fill="#44a820"/>
<rect x="441.3" y="1.2000000000000002" width="5.4" height="3.8" rx="0.6" fill="#fff"/>
<rect x="442.3" y="2.2" width="3.4" height="1" fill="#44a820" fill-opacity="0.6"/>
<rect x="448" y="-1" width="8" height="7.2" rx="0.8" fill="#3464d8"/>
<rect x="449.3" y="1.2000000000000002" width="5.4" height="3.8" rx="0.6" fill="#fff"/>
<rect x="450.3" y="2.2" width="3.4" height="1" fill="#3464d8" fill-opacity="0.6"/>
<rect x="440" y="6.5" width="8" height="7.2" rx="0.8" fill="#3464d8"/>
<rect x="441.3" y="8.7" width="5.4" height="3.8" rx="0.6" fill="#fff"/>
<rect x="442.3" y="9.7" width="3.4" height="1" fill="#3464d8" fill-opacity="0.6"/>
<rect x="448" y="6.5" width="8" height="7.2" rx="0.8" fill="#44a820"/>
<rect x="449.3" y="8.7" width="5.4" height="3.8" rx="0.6" fill="#fff"/>
<rect x="450.3" y="9.7" width="3.4" height="1" fill="#44a820" fill-opacity="0.6"/>
<rect x="465" y="0" width="1" height="16" fill="#a0a0a0" class="c"/>
<rect x="470" y="0" width="1" height="16" fill="#a0a0a0" class="c"/>
<rect x="471" y="0" width="24" height="16" fill="url(#chk)" class="c"/>
<rect x="470" y="16" width="26" height="1" fill="#fff" class="c"/>
<rect x="478" y="0" width="1" height="14" fill="#585858" class="c"/>
<rect x="477" y="1" width="3" height="1" fill="#585858" class="c"/>
<rect x="476" y="11" width="14" height="1" fill="#585858" class="c"/>
<polygon points="488,9.5 491,11.5 488,13.5" fill="#585858"/>
<path d="M483.3,2.4 L487.2,5.6 L483.3,8.8 Z" fill="#60e060" stroke="#189c18" stroke-width="1"/>
<rect x="498" y="0" width="1" height="16" fill="#a0a0a0" class="c"/>
<rect x="499" y="0" width="24" height="16" fill="url(#chk)" class="c"/>
<rect x="498" y="16" width="26" height="1" fill="#fff" class="c"/>
<rect x="506" y="0" width="1" height="14" fill="#585858" class="c"/>
<rect x="505" y="1" width="3" height="1" fill="#585858" class="c"/>
<rect x="504" y="11" width="14" height="1" fill="#585858" class="c"/>
<polygon points="516,9.5 519,11.5 516,13.5" fill="#585858"/>
<rect x="512" y="0" width="1" height="10" fill="#1878b4" class="c"/>
<path d="M513.3,5.5 L516,3 L516,4.8 L518.4,4.8 L518.4,6.2 L516,6.2 L516,8 Z" fill="#e04c00"/>
<rect x="527" y="0" width="1" height="16" fill="#a0a0a0" class="c"/>
<path d="M537.5,-2h8l3,3v9.5a1,1 0 0 1 -1,1h-9a1,1 0 0 1 -1,-1z" fill="#fff" stroke="#8a8a8a" stroke-width="1"/>
<rect x="539.5" y="2" width="6" height="1" fill="#b0b0b0" />
<rect x="539.5" y="4.5" width="6" height="1" fill="#b0b0b0" />
<rect x="539.5" y="7" width="6" height="1" fill="#b0b0b0" />
<path d="M545.3000000000001,4.2h3.8v3.9h3.9v3.8h-3.9v3.9h-3.8v-3.9h-3.9v-3.8h3.9z" fill="url(#plus)" stroke="#0c8c0c" stroke-width="0.9"/>
<polygon points="558.6,5 564.6,5 561.6,8.2" fill="#000"/>
<circle cx="583" cy="6.3" r="7.3" fill="#fff" stroke="#1464d4" stroke-width="2.2"/>
<circle cx="583" cy="6.3" r="5.6" fill="#f4f8fc" stroke="#9cc0f0" stroke-width="0.6"/>
<path d="M582.8,2.6V6.6H585.6" fill="none" stroke="#404040" stroke-width="1"/>
<polygon points="597.5,5 603.5,5 600.5,8.2" fill="#000"/>
<rect x="614.5" y="-2" width="15" height="14.5" fill="#fff" stroke="#4484d8" stroke-width="1"/>
<rect x="615" y="0" width="14" height="2" fill="#5c9ce4" class="c"/>
<rect x="615" y="7" width="14" height="1" fill="#4484d8" class="c"/>
<path d="M616.5,5.2 L619,5.2 L620.5,3.8 L623,4.6 L625,3.6 L627.5,3.2" fill="none" stroke="#c02010" stroke-width="1.1"/>
<path d="M617,10.2 L619.5,9.6 L621,10.4 L624,8.6 L626,9 L627.5,10.4" fill="none" stroke="#18a018" stroke-width="1.1"/>
<polygon points="636.8,5 642.8,5 639.8,8.2" fill="#000"/>
<rect x="648" y="0" width="1" height="18" fill="#a0a0a0" class="c"/>
<rect x="649" y="0" width="1" height="18" fill="#fbfbfb" class="c"/>
<rect x="652" y="0" width="3" height="1" fill="#b4b4b4" class="c"/>
<rect x="652" y="2" width="3" height="1" fill="#b4b4b4" class="c"/>
<rect x="652" y="4" width="3" height="1" fill="#b4b4b4" class="c"/>
<rect x="652" y="6" width="3" height="1" fill="#b4b4b4" class="c"/>
<rect x="652" y="8" width="3" height="1" fill="#b4b4b4" class="c"/>
<rect x="652" y="10" width="3" height="1" fill="#b4b4b4" class="c"/>
<rect x="652" y="12" width="3" height="1" fill="#b4b4b4" class="c"/>
<rect x="652" y="14" width="3" height="1" fill="#b4b4b4" class="c"/>
<rect x="658" y="0" width="1" height="16" fill="#a0a0a0" class="c"/>
<rect x="659" y="0" width="24" height="16" fill="url(#chk)" class="c"/>
<rect x="658" y="16" width="26" height="1" fill="#fff" class="c"/>
<path d="M666.2,-2 L666.2,9.8 L668.7,7.5 L671.2,13 L673,12.2 L670.7,6.9 L674.2,6.6 Z" fill="#505050"/>
<rect x="691" y="6" width="6" height="1" fill="#585858" class="c"/>
<rect x="700" y="6" width="6" height="1" fill="#585858" class="c"/>
<rect x="698" y="0" width="1" height="5" fill="#585858" class="c"/>
<rect x="698" y="8" width="1" height="6" fill="#585858" class="c"/>
<rect x="698" y="6" width="1" height="1" fill="#909090" class="c"/>
<rect x="715" y="0" width="1" height="16" fill="#a0a0a0" class="c"/>
<rect x="732" y="0" width="1" height="13" fill="#585858" class="c"/>
<rect x="755" y="6" width="12" height="1" fill="#585858" class="c"/>
<line x1="782.8" y1="13" x2="795" y2="0.8" stroke="#585858" stroke-width="1"/>
<line x1="808.5" y1="7.5" x2="817" y2="-1.0" stroke="#585858" stroke-width="1"/>
<line x1="811.5" y1="9.75" x2="820" y2="1.25" stroke="#585858" stroke-width="1"/>
<line x1="814.5" y1="12.0" x2="823" y2="3.5" stroke="#585858" stroke-width="1"/>
<path d="M811.5,7.5l1.3,4.3M814.5,4.5l1.3,4.5M817.5,1.5l1.3,4.5M820,-1l1.3,4.5" fill="none" stroke="#585858" stroke-width="1"/>
<text x="819.8" y="15" font-size="7" fill="#303030" text-anchor="start" font-weight="bold">E</text>
<line x1="838" y1="2.5" x2="851" y2="2.5" stroke="#404040" stroke-width="1" stroke-dasharray="1 1" class="c"/>
<line x1="838" y1="6.5" x2="851" y2="6.5" stroke="#404040" stroke-width="1" stroke-dasharray="1 1" class="c"/>
<line x1="838" y1="10.5" x2="847" y2="10.5" stroke="#404040" stroke-width="1" stroke-dasharray="1 1" class="c"/>
<text x="847.5" y="15" font-size="7" fill="#303030" text-anchor="start" font-weight="bold">F</text>
<text x="868.3" y="11" font-size="12.5" fill="#606060" text-anchor="start" font-weight="bold">A</text>
<rect x="895" y="-1.5" width="12" height="14" fill="none" stroke="#505050" stroke-width="1" stroke-dasharray="1 1" class="c"/>
<text x="901" y="10.8" font-size="11" fill="#585858" text-anchor="middle" font-weight="bold">T</text>
<path d="M925.6,-1.5 L929,2.5 L927,4.6 L924.2,4.6 L922.2,2.5 Z" fill="#585858"/>
<path d="M924,7.6 L926.4,9.8 L930.8,4.6" fill="none" stroke="#585858" stroke-width="1.2"/>
<path d="M929.2,9.6 L930.8,8.2 L934.4,8.2 L936,9.6 L932.7,13.2 Z" fill="#585858"/>
<polygon points="942.6,5 948.6,5 945.6,8.2" fill="#000"/>
<rect x="954" y="0" width="1" height="18" fill="#a0a0a0" class="c"/>
<rect x="955" y="0" width="1" height="18" fill="#fbfbfb" class="c"/>
<rect x="958" y="0" width="3" height="1" fill="#b4b4b4" class="c"/>
<rect x="958" y="2" width="3" height="1" fill="#b4b4b4" class="c"/>
<rect x="958" y="4" width="3" height="1" fill="#b4b4b4" class="c"/>
<rect x="958" y="6" width="3" height="1" fill="#b4b4b4" class="c"/>
<rect x="958" y="8" width="3" height="1" fill="#b4b4b4" class="c"/>
<rect x="958" y="10" width="3" height="1" fill="#b4b4b4" class="c"/>
<rect x="958" y="12" width="3" height="1" fill="#b4b4b4" class="c"/>
<rect x="958" y="14" width="3" height="1" fill="#b4b4b4" class="c"/>
<rect x="1132" y="0" width="1" height="16" fill="#a0a0a0" class="c"/>
<rect x="1133" y="0" width="24" height="16" fill="url(#chk)" class="c"/>
<rect x="1132" y="16" width="26" height="1" fill="#fff" class="c"/>
<text x="969.8" y="9.7" font-size="9.9" fill="#404040" text-anchor="start" textLength="12.8" lengthAdjust="spacingAndGlyphs">M1</text>
<text x="997.7" y="9.7" font-size="9.9" fill="#404040" text-anchor="start" textLength="12.8" lengthAdjust="spacingAndGlyphs">M5</text>
<text x="1023.6" y="9.7" font-size="9.9" fill="#404040" text-anchor="start" textLength="17.8" lengthAdjust="spacingAndGlyphs">M15</text>
<text x="1051.6" y="9.7" font-size="9.9" fill="#404040" text-anchor="start" textLength="17.8" lengthAdjust="spacingAndGlyphs">M30</text>
<text x="1082.8" y="9.7" font-size="9.9" fill="#404040" text-anchor="start" textLength="11.4" lengthAdjust="spacingAndGlyphs">H1</text>
<text x="1109.8" y="9.7" font-size="9.9" fill="#404040" text-anchor="start" textLength="12.4" lengthAdjust="spacingAndGlyphs">H4</text>
<text x="1138.7" y="9.7" font-size="9.9" fill="#404040" text-anchor="start" textLength="11.6" lengthAdjust="spacingAndGlyphs">D1</text>
<text x="1166.3" y="9.7" font-size="9.9" fill="#404040" text-anchor="start" textLength="13.8" lengthAdjust="spacingAndGlyphs">W1</text>
<text x="1192.7" y="9.7" font-size="9.9" fill="#404040" text-anchor="start" textLength="14.8" lengthAdjust="spacingAndGlyphs">MN</text>
<rect x="1215" y="0" width="1" height="18" fill="#a0a0a0" class="c"/>
<rect x="1216" y="0" width="1" height="18" fill="#fbfbfb" class="c"/>
<line x1="1678.3" y1="10.6" x2="1682.6" y2="6.4" stroke="#2a62d4" stroke-width="2.6" stroke-linecap="round"/>
<circle cx="1685.5" cy="3.4" r="4" fill="#f4f6ff" stroke="#2a62d8" stroke-width="1.5"/>
<ellipse cx="1718" cy="3" rx="6.6" ry="4.4" fill="#e6e6ea" stroke="#8c8c8c" stroke-width="1"/>
<path d="M1719.5,7 L1721.6,9.8 L1722.2,6.6 Z" fill="#707070"/>
<ellipse cx="1709.4" cy="6.9" rx="5.2" ry="3.7" fill="#f6f6f8" stroke="#808080" stroke-width="1"/>
<ellipse cx="1710" cy="7.8" rx="3" ry="1.4" fill="#d8d8dc"/>
<path d="M1705.8,10 L1706.2,12.8 L1708.6,10.6 Z" fill="#606060"/>
</svg></body></html>
